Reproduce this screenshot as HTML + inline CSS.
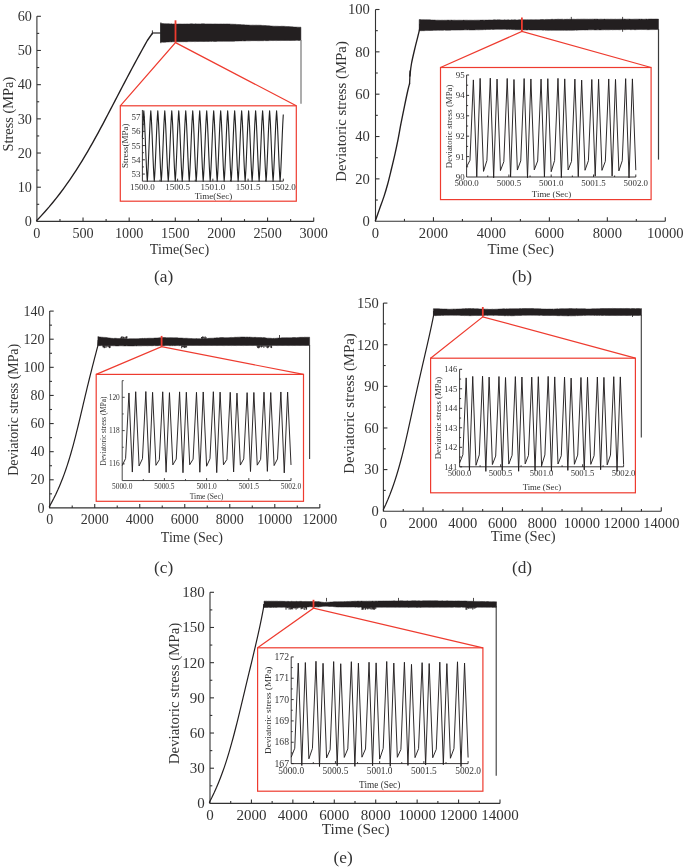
<!DOCTYPE html>
<html><head><meta charset="utf-8"><style>
html,body{margin:0;padding:0;background:#fff;width:685px;height:868px;overflow:hidden}
svg{display:block;will-change:transform}
text{font-family:"Liberation Serif", serif}
</style></head><body>
<svg width="685" height="868" viewBox="0 0 685 868">
<rect width="685" height="868" fill="#fff"/>
<path d="M36.9 16.3 L36.9 221.4 L313.7 221.4" stroke="#333" stroke-width="1.1" fill="none"/>
<line x1="83.03" y1="221.4" x2="83.03" y2="217.4" stroke="#333" stroke-width="1.1"/>
<line x1="129.17" y1="221.4" x2="129.17" y2="217.4" stroke="#333" stroke-width="1.1"/>
<line x1="175.3" y1="221.4" x2="175.3" y2="217.4" stroke="#333" stroke-width="1.1"/>
<line x1="221.43" y1="221.4" x2="221.43" y2="217.4" stroke="#333" stroke-width="1.1"/>
<line x1="267.57" y1="221.4" x2="267.57" y2="217.4" stroke="#333" stroke-width="1.1"/>
<line x1="313.7" y1="221.4" x2="313.7" y2="217.4" stroke="#333" stroke-width="1.1"/>
<line x1="59.97" y1="221.4" x2="59.97" y2="219.1" stroke="#333" stroke-width="1.1"/>
<line x1="106.1" y1="221.4" x2="106.1" y2="219.1" stroke="#333" stroke-width="1.1"/>
<line x1="152.23" y1="221.4" x2="152.23" y2="219.1" stroke="#333" stroke-width="1.1"/>
<line x1="198.37" y1="221.4" x2="198.37" y2="219.1" stroke="#333" stroke-width="1.1"/>
<line x1="244.5" y1="221.4" x2="244.5" y2="219.1" stroke="#333" stroke-width="1.1"/>
<line x1="290.63" y1="221.4" x2="290.63" y2="219.1" stroke="#333" stroke-width="1.1"/>
<line x1="36.9" y1="187.22" x2="40.9" y2="187.22" stroke="#333" stroke-width="1.1"/>
<line x1="36.9" y1="153.03" x2="40.9" y2="153.03" stroke="#333" stroke-width="1.1"/>
<line x1="36.9" y1="118.85" x2="40.9" y2="118.85" stroke="#333" stroke-width="1.1"/>
<line x1="36.9" y1="84.67" x2="40.9" y2="84.67" stroke="#333" stroke-width="1.1"/>
<line x1="36.9" y1="50.48" x2="40.9" y2="50.48" stroke="#333" stroke-width="1.1"/>
<line x1="36.9" y1="16.3" x2="40.9" y2="16.3" stroke="#333" stroke-width="1.1"/>
<line x1="36.9" y1="204.31" x2="39.2" y2="204.31" stroke="#333" stroke-width="1.1"/>
<line x1="36.9" y1="170.12" x2="39.2" y2="170.12" stroke="#333" stroke-width="1.1"/>
<line x1="36.9" y1="135.94" x2="39.2" y2="135.94" stroke="#333" stroke-width="1.1"/>
<line x1="36.9" y1="101.76" x2="39.2" y2="101.76" stroke="#333" stroke-width="1.1"/>
<line x1="36.9" y1="67.57" x2="39.2" y2="67.57" stroke="#333" stroke-width="1.1"/>
<line x1="36.9" y1="33.39" x2="39.2" y2="33.39" stroke="#333" stroke-width="1.1"/>
<text x="36.9" y="238.1" font-size="14.2" text-anchor="middle" fill="#333">0</text>
<text x="83.03" y="238.1" font-size="14.2" text-anchor="middle" fill="#333">500</text>
<text x="129.17" y="238.1" font-size="14.2" text-anchor="middle" fill="#333">1000</text>
<text x="175.3" y="238.1" font-size="14.2" text-anchor="middle" fill="#333">1500</text>
<text x="221.43" y="238.1" font-size="14.2" text-anchor="middle" fill="#333">2000</text>
<text x="267.57" y="238.1" font-size="14.2" text-anchor="middle" fill="#333">2500</text>
<text x="313.7" y="238.1" font-size="14.2" text-anchor="middle" fill="#333">3000</text>
<text x="31.9" y="226.1" font-size="14.2" text-anchor="end" fill="#333">0</text>
<text x="31.9" y="191.92" font-size="14.2" text-anchor="end" fill="#333">10</text>
<text x="31.9" y="157.73" font-size="14.2" text-anchor="end" fill="#333">20</text>
<text x="31.9" y="123.55" font-size="14.2" text-anchor="end" fill="#333">30</text>
<text x="31.9" y="89.37" font-size="14.2" text-anchor="end" fill="#333">40</text>
<text x="31.9" y="55.18" font-size="14.2" text-anchor="end" fill="#333">50</text>
<text x="31.9" y="21" font-size="14.2" text-anchor="end" fill="#333">60</text>
<text x="179.5" y="254" font-size="14.2" text-anchor="middle" fill="#333">Time(Sec)</text>
<text x="12.9" y="114.1" font-size="14.4" text-anchor="middle" fill="#333" transform="rotate(-90 12.9 114.1)">Stress (MPa)</text>
<text x="163.6" y="281.8" font-size="17.3" text-anchor="middle" fill="#333">(a)</text>
<path d="M36.3 221 L40.68 216.37 L44.88 211.74 L48.92 207.12 L52.79 202.49 L56.52 197.86 L60.11 193.23 L63.57 188.6 L66.9 183.97 L70.13 179.35 L73.25 174.72 L76.28 170.09 L79.23 165.46 L82.09 160.83 L84.88 156.21 L87.61 151.58 L90.27 146.95 L92.89 142.32 L95.46 137.69 L98 133.06 L100.5 128.44 L102.97 123.81 L105.42 119.18 L107.85 114.55 L110.27 109.92 L112.68 105.29 L115.09 100.67 L117.5 96.04 L119.91 91.41 L122.32 86.78 L124.75 82.15 L127.18 77.53 L129.63 72.9 L132.1 68.27 L134.58 63.64 L137.09 59.01 L139.62 54.38 L142.17 49.76 L144.74 45.13 L147.33 40.5 L152.6 33" stroke="#231f20" stroke-width="1.35" fill="none" stroke-linejoin="round"/>
<line x1="152.4" y1="33" x2="160.9" y2="33" stroke="#231f20" stroke-width="1.2"/>
<line x1="152.4" y1="30.4" x2="152.4" y2="34.4" stroke="#231f20" stroke-width="0.9"/>
<path d="M160.5 23.6 L161.71 23.58 L162.92 23.57 L164.13 23.68 L165.34 23.63 L166.55 23.75 L167.76 23.78 L168.97 23.78 L170.18 23.9 L171.39 23.87 L172.6 23.96 L173.81 23.92 L175.02 23.93 L176.23 23.99 L177.44 24.05 L178.66 23.93 L179.87 23.95 L181.08 24.01 L182.29 24.05 L183.5 23.99 L184.71 23.95 L185.92 24.04 L187.13 23.88 L188.34 24 L189.55 23.9 L190.76 23.87 L191.97 23.86 L193.18 23.89 L194.39 23.96 L195.6 23.86 L196.81 23.92 L198.02 23.92 L199.23 23.88 L200.44 23.91 L201.65 23.83 L202.86 23.83 L204.07 23.86 L205.28 23.94 L206.49 23.9 L207.7 23.89 L208.91 23.94 L210.12 23.93 L211.33 23.91 L212.54 24 L213.76 23.99 L214.97 23.92 L216.18 23.98 L217.39 23.98 L218.6 24.04 L219.81 24.03 L221.02 23.96 L222.23 24.07 L223.44 23.94 L224.65 23.99 L225.86 24.04 L227.07 23.96 L228.28 24.03 L229.49 23.99 L230.7 24.13 L231.91 24.19 L233.12 24.22 L234.33 24.32 L235.54 24.3 L236.75 24.43 L237.96 24.49 L239.17 24.56 L240.38 24.62 L241.59 24.75 L242.8 24.84 L244.01 24.84 L245.22 24.94 L246.43 24.9 L247.64 25.06 L248.86 25.1 L250.07 25.2 L251.28 25.21 L252.49 25.14 L253.7 25.18 L254.91 25.23 L256.12 25.13 L257.33 25.22 L258.54 25.2 L259.75 25.23 L260.96 25.28 L262.17 25.45 L263.38 25.42 L264.59 25.51 L265.8 25.62 L267.01 25.78 L268.22 25.73 L269.43 25.87 L270.64 25.97 L271.85 26.1 L273.06 26.15 L274.27 26.22 L275.48 26.18 L276.69 26.24 L277.9 26.26 L279.11 26.36 L280.32 26.37 L281.53 26.26 L282.74 26.29 L283.96 26.33 L285.17 26.39 L286.38 26.49 L287.59 26.58 L288.8 26.6 L290.01 26.64 L291.22 26.79 L292.43 26.86 L293.64 26.97 L294.85 27.1 L296.06 27.12 L297.27 27.14 L298.48 27.19 L299.69 27.22 L300.9 27.2 L300.9 40.4 L299.69 40.42 L298.48 40.48 L297.27 40.33 L296.06 40.35 L294.85 40.43 L293.64 40.4 L292.43 40.46 L291.22 40.52 L290.01 40.51 L288.8 40.41 L287.59 40.52 L286.38 40.54 L285.17 40.43 L283.96 40.43 L282.74 40.44 L281.53 40.53 L280.32 40.57 L279.11 40.48 L277.9 40.49 L276.69 40.58 L275.48 40.56 L274.27 40.5 L273.06 40.58 L271.85 40.5 L270.64 40.56 L269.43 40.62 L268.22 40.64 L267.01 40.67 L265.8 40.65 L264.59 40.57 L263.38 40.7 L262.17 40.69 L260.96 40.67 L259.75 40.74 L258.54 40.75 L257.33 40.72 L256.12 40.65 L254.91 40.65 L253.7 40.66 L252.49 40.67 L251.28 40.7 L250.07 40.81 L248.86 40.84 L247.64 40.85 L246.43 40.8 L245.22 40.92 L244.01 40.91 L242.8 40.87 L241.59 40.91 L240.38 40.91 L239.17 40.95 L237.96 41.04 L236.75 41.1 L235.54 41.09 L234.33 41.21 L233.12 41.25 L231.91 41.27 L230.7 41.3 L229.49 41.35 L228.28 41.33 L227.07 41.25 L225.86 41.27 L224.65 41.34 L223.44 41.31 L222.23 41.35 L221.02 41.26 L219.81 41.3 L218.6 41.29 L217.39 41.37 L216.18 41.41 L214.97 41.45 L213.76 41.39 L212.54 41.32 L211.33 41.42 L210.12 41.37 L208.91 41.45 L207.7 41.53 L206.49 41.39 L205.28 41.42 L204.07 41.54 L202.86 41.46 L201.65 41.47 L200.44 41.44 L199.23 41.43 L198.02 41.5 L196.81 41.51 L195.6 41.6 L194.39 41.59 L193.18 41.49 L191.97 41.55 L190.76 41.57 L189.55 41.57 L188.34 41.58 L187.13 41.68 L185.92 41.74 L184.71 41.63 L183.5 41.7 L182.29 41.68 L181.08 41.7 L179.87 41.69 L178.66 41.71 L177.44 41.77 L176.23 41.74 L175.02 41.75 L173.81 41.74 L172.6 41.76 L171.39 41.88 L170.18 41.84 L168.97 41.93 L167.76 41.98 L166.55 42.1 L165.34 42.16 L164.13 42.19 L162.92 42.24 L161.71 42.12 L160.5 42.2Z" fill="#231f20" stroke="#231f20" stroke-width="0.5"/>
<line x1="160.9" y1="22.4" x2="160.9" y2="43.2" stroke="#231f20" stroke-width="0.9"/>
<line x1="301" y1="40" x2="301" y2="103.7" stroke="#8a8a8a" stroke-width="1.4"/>
<line x1="175.5" y1="20.3" x2="175.5" y2="42.6" stroke="#ee3b2f" stroke-width="1.8"/>
<path d="M120.3 105.8 L175.5 42.6 L296.3 105.8" stroke="#ee3b2f" stroke-width="1.2" fill="none"/>
<rect x="120.3" y="105.8" width="176" height="95.4" stroke="#ee3b2f" stroke-width="1.2" fill="none"/>
<path d="M142.4 109.97 L142.4 181.17 L283.3 181.17" stroke="#231f20" stroke-width="0.9" fill="none"/>
<line x1="177.62" y1="181.17" x2="177.62" y2="178.67" stroke="#231f20" stroke-width="0.9"/>
<line x1="212.85" y1="181.17" x2="212.85" y2="178.67" stroke="#231f20" stroke-width="0.9"/>
<line x1="248.08" y1="181.17" x2="248.08" y2="178.67" stroke="#231f20" stroke-width="0.9"/>
<line x1="283.3" y1="181.17" x2="283.3" y2="178.67" stroke="#231f20" stroke-width="0.9"/>
<line x1="160.01" y1="181.17" x2="160.01" y2="179.67" stroke="#231f20" stroke-width="0.9"/>
<line x1="195.24" y1="181.17" x2="195.24" y2="179.67" stroke="#231f20" stroke-width="0.9"/>
<line x1="230.46" y1="181.17" x2="230.46" y2="179.67" stroke="#231f20" stroke-width="0.9"/>
<line x1="265.69" y1="181.17" x2="265.69" y2="179.67" stroke="#231f20" stroke-width="0.9"/>
<line x1="142.4" y1="174.05" x2="144.9" y2="174.05" stroke="#231f20" stroke-width="0.9"/>
<line x1="142.4" y1="159.81" x2="144.9" y2="159.81" stroke="#231f20" stroke-width="0.9"/>
<line x1="142.4" y1="145.57" x2="144.9" y2="145.57" stroke="#231f20" stroke-width="0.9"/>
<line x1="142.4" y1="131.33" x2="144.9" y2="131.33" stroke="#231f20" stroke-width="0.9"/>
<line x1="142.4" y1="117.09" x2="144.9" y2="117.09" stroke="#231f20" stroke-width="0.9"/>
<line x1="142.4" y1="166.93" x2="143.9" y2="166.93" stroke="#231f20" stroke-width="0.9"/>
<line x1="142.4" y1="152.69" x2="143.9" y2="152.69" stroke="#231f20" stroke-width="0.9"/>
<line x1="142.4" y1="138.45" x2="143.9" y2="138.45" stroke="#231f20" stroke-width="0.9"/>
<line x1="142.4" y1="124.21" x2="143.9" y2="124.21" stroke="#231f20" stroke-width="0.9"/>
<text x="142.4" y="190.17" font-size="9" text-anchor="middle" fill="#333">1500.0</text>
<text x="177.62" y="190.17" font-size="9" text-anchor="middle" fill="#333">1500.5</text>
<text x="212.85" y="190.17" font-size="9" text-anchor="middle" fill="#333">1501.0</text>
<text x="248.08" y="190.17" font-size="9" text-anchor="middle" fill="#333">1501.5</text>
<text x="283.3" y="190.17" font-size="9" text-anchor="middle" fill="#333">1502.0</text>
<text x="140.4" y="177.05" font-size="9" text-anchor="end" fill="#333">53</text>
<text x="140.4" y="162.81" font-size="9" text-anchor="end" fill="#333">54</text>
<text x="140.4" y="148.57" font-size="9" text-anchor="end" fill="#333">55</text>
<text x="140.4" y="134.33" font-size="9" text-anchor="end" fill="#333">56</text>
<text x="140.4" y="120.09" font-size="9" text-anchor="end" fill="#333">57</text>
<text x="213.5" y="198.9" font-size="9" text-anchor="middle" fill="#333">Time(Sec)</text>
<text x="128.4" y="145.7" font-size="9" text-anchor="middle" fill="#333" transform="rotate(-90 128.4 145.7)">Stress(MPa)</text>
<path d="M142.4 137.51 L143.37 116.87 L143.81 110.82 L144.25 116.87 L144.68 125.13 L145.12 135.1 L145.56 146 L145.99 156.89 L146.43 166.86 L146.87 175.13 L147.3 181.17 L147.74 175.13 L148.18 166.86 L148.61 156.89 L149.05 146 L149.49 135.1 L149.92 125.13 L150.36 116.87 L150.8 110.82 L151.23 116.87 L151.67 125.13 L152.11 135.1 L152.54 146 L152.98 156.89 L153.42 166.86 L153.86 175.13 L154.29 181.17 L154.73 175.13 L155.17 166.86 L155.6 156.89 L156.04 146 L156.48 135.1 L156.91 125.13 L157.35 116.87 L157.79 110.82 L158.22 116.87 L158.66 125.13 L159.1 135.1 L159.53 146 L159.97 156.89 L160.41 166.86 L160.84 175.13 L161.28 181.17 L161.72 175.13 L162.15 166.86 L162.59 156.89 L163.03 146 L163.46 135.1 L163.9 125.13 L164.34 116.87 L164.77 110.82 L165.21 116.87 L165.65 125.13 L166.09 135.1 L166.52 146 L166.96 156.89 L167.4 166.86 L167.83 175.13 L168.27 181.17 L168.71 175.13 L169.14 166.86 L169.58 156.89 L170.02 146 L170.45 135.1 L170.89 125.13 L171.33 116.87 L171.76 110.82 L172.2 116.87 L172.64 125.13 L173.07 135.1 L173.51 146 L173.95 156.89 L174.38 166.86 L174.82 175.13 L175.26 181.17 L175.69 175.13 L176.13 166.86 L176.57 156.89 L177.01 146 L177.44 135.1 L177.88 125.13 L178.32 116.87 L178.75 110.82 L179.19 116.87 L179.63 125.13 L180.06 135.1 L180.5 146 L180.94 156.89 L181.37 166.86 L181.81 175.13 L182.25 181.17 L182.68 175.13 L183.12 166.86 L183.56 156.89 L183.99 146 L184.43 135.1 L184.87 125.13 L185.3 116.87 L185.74 110.82 L186.18 116.87 L186.61 125.13 L187.05 135.1 L187.49 146 L187.92 156.89 L188.36 166.86 L188.8 175.13 L189.24 181.17 L189.67 175.13 L190.11 166.86 L190.55 156.89 L190.98 146 L191.42 135.1 L191.86 125.13 L192.29 116.87 L192.73 110.82 L193.17 116.87 L193.6 125.13 L194.04 135.1 L194.48 146 L194.91 156.89 L195.35 166.86 L195.79 175.13 L196.22 181.17 L196.66 175.13 L197.1 166.86 L197.53 156.89 L197.97 146 L198.41 135.1 L198.84 125.13 L199.28 116.87 L199.72 110.82 L200.15 116.87 L200.59 125.13 L201.03 135.1 L201.47 146 L201.9 156.89 L202.34 166.86 L202.78 175.13 L203.21 181.17 L203.65 175.13 L204.09 166.86 L204.52 156.89 L204.96 146 L205.4 135.1 L205.83 125.13 L206.27 116.87 L206.71 110.82 L207.14 116.87 L207.58 125.13 L208.02 135.1 L208.45 146 L208.89 156.89 L209.33 166.86 L209.76 175.13 L210.2 181.17 L210.64 175.13 L211.07 166.86 L211.51 156.89 L211.95 146 L212.39 135.1 L212.82 125.13 L213.26 116.87 L213.7 110.82 L214.13 116.87 L214.57 125.13 L215.01 135.1 L215.44 146 L215.88 156.89 L216.32 166.86 L216.75 175.13 L217.19 181.17 L217.63 175.13 L218.06 166.86 L218.5 156.89 L218.94 146 L219.37 135.1 L219.81 125.13 L220.25 116.87 L220.68 110.82 L221.12 116.87 L221.56 125.13 L221.99 135.1 L222.43 146 L222.87 156.89 L223.3 166.86 L223.74 175.13 L224.18 181.17 L224.62 175.13 L225.05 166.86 L225.49 156.89 L225.93 146 L226.36 135.1 L226.8 125.13 L227.24 116.87 L227.67 110.82 L228.11 116.87 L228.55 125.13 L228.98 135.1 L229.42 146 L229.86 156.89 L230.29 166.86 L230.73 175.13 L231.17 181.17 L231.6 175.13 L232.04 166.86 L232.48 156.89 L232.91 146 L233.35 135.1 L233.79 125.13 L234.22 116.87 L234.66 110.82 L235.1 116.87 L235.53 125.13 L235.97 135.1 L236.41 146 L236.85 156.89 L237.28 166.86 L237.72 175.13 L238.16 181.17 L238.59 175.13 L239.03 166.86 L239.47 156.89 L239.9 146 L240.34 135.1 L240.78 125.13 L241.21 116.87 L241.65 110.82 L242.09 116.87 L242.52 125.13 L242.96 135.1 L243.4 146 L243.83 156.89 L244.27 166.86 L244.71 175.13 L245.14 181.17 L245.58 175.13 L246.02 166.86 L246.45 156.89 L246.89 146 L247.33 135.1 L247.77 125.13 L248.2 116.87 L248.64 110.82 L249.08 116.87 L249.51 125.13 L249.95 135.1 L250.39 146 L250.82 156.89 L251.26 166.86 L251.7 175.13 L252.13 181.17 L252.57 175.13 L253.01 166.86 L253.44 156.89 L253.88 146 L254.32 135.1 L254.75 125.13 L255.19 116.87 L255.63 110.82 L256.06 116.87 L256.5 125.13 L256.94 135.1 L257.37 146 L257.81 156.89 L258.25 166.86 L258.68 175.13 L259.12 181.17 L259.56 175.13 L260 166.86 L260.43 156.89 L260.87 146 L261.31 135.1 L261.74 125.13 L262.18 116.87 L262.62 110.82 L263.05 116.87 L263.49 125.13 L263.93 135.1 L264.36 146 L264.8 156.89 L265.24 166.86 L265.67 175.13 L266.11 181.17 L266.55 175.13 L266.98 166.86 L267.42 156.89 L267.86 146 L268.29 135.1 L268.73 125.13 L269.17 116.87 L269.6 110.82 L270.04 116.87 L270.48 125.13 L270.91 135.1 L271.35 146 L271.79 156.89 L272.23 166.86 L272.66 175.13 L273.1 181.17 L273.54 175.13 L273.97 166.86 L274.41 156.89 L274.85 146 L275.28 135.1 L275.72 125.13 L276.16 116.87 L276.59 110.82 L277.03 116.87 L277.47 125.13 L277.9 135.1 L278.34 146 L278.78 156.89 L279.21 166.86 L279.65 175.13 L280.09 181.17 L280.52 175.13 L280.96 166.86 L281.4 156.89 L281.83 146 L282.27 135.1 L282.71 125.13 L283.15 116.87 L283.3 114.45" stroke="#222" stroke-width="1.1" fill="none" stroke-linejoin="round"/>
<path d="M375.5 9.5 L375.5 221.2 L665.3 221.2" stroke="#333" stroke-width="1.1" fill="none"/>
<line x1="433.46" y1="221.2" x2="433.46" y2="217.2" stroke="#333" stroke-width="1.1"/>
<line x1="491.42" y1="221.2" x2="491.42" y2="217.2" stroke="#333" stroke-width="1.1"/>
<line x1="549.38" y1="221.2" x2="549.38" y2="217.2" stroke="#333" stroke-width="1.1"/>
<line x1="607.34" y1="221.2" x2="607.34" y2="217.2" stroke="#333" stroke-width="1.1"/>
<line x1="665.3" y1="221.2" x2="665.3" y2="217.2" stroke="#333" stroke-width="1.1"/>
<line x1="404.48" y1="221.2" x2="404.48" y2="218.9" stroke="#333" stroke-width="1.1"/>
<line x1="462.44" y1="221.2" x2="462.44" y2="218.9" stroke="#333" stroke-width="1.1"/>
<line x1="520.4" y1="221.2" x2="520.4" y2="218.9" stroke="#333" stroke-width="1.1"/>
<line x1="578.36" y1="221.2" x2="578.36" y2="218.9" stroke="#333" stroke-width="1.1"/>
<line x1="636.32" y1="221.2" x2="636.32" y2="218.9" stroke="#333" stroke-width="1.1"/>
<line x1="375.5" y1="178.86" x2="379.5" y2="178.86" stroke="#333" stroke-width="1.1"/>
<line x1="375.5" y1="136.52" x2="379.5" y2="136.52" stroke="#333" stroke-width="1.1"/>
<line x1="375.5" y1="94.18" x2="379.5" y2="94.18" stroke="#333" stroke-width="1.1"/>
<line x1="375.5" y1="51.84" x2="379.5" y2="51.84" stroke="#333" stroke-width="1.1"/>
<line x1="375.5" y1="9.5" x2="379.5" y2="9.5" stroke="#333" stroke-width="1.1"/>
<line x1="375.5" y1="200.03" x2="377.8" y2="200.03" stroke="#333" stroke-width="1.1"/>
<line x1="375.5" y1="157.69" x2="377.8" y2="157.69" stroke="#333" stroke-width="1.1"/>
<line x1="375.5" y1="115.35" x2="377.8" y2="115.35" stroke="#333" stroke-width="1.1"/>
<line x1="375.5" y1="73.01" x2="377.8" y2="73.01" stroke="#333" stroke-width="1.1"/>
<line x1="375.5" y1="30.67" x2="377.8" y2="30.67" stroke="#333" stroke-width="1.1"/>
<text x="375.5" y="237.6" font-size="14.6" text-anchor="middle" fill="#333">0</text>
<text x="433.46" y="237.6" font-size="14.6" text-anchor="middle" fill="#333">2000</text>
<text x="491.42" y="237.6" font-size="14.6" text-anchor="middle" fill="#333">4000</text>
<text x="549.38" y="237.6" font-size="14.6" text-anchor="middle" fill="#333">6000</text>
<text x="607.34" y="237.6" font-size="14.6" text-anchor="middle" fill="#333">8000</text>
<text x="665.3" y="237.6" font-size="14.6" text-anchor="middle" fill="#333">10000</text>
<text x="369.9" y="226.03" font-size="14.6" text-anchor="end" fill="#333">0</text>
<text x="369.9" y="183.69" font-size="14.6" text-anchor="end" fill="#333">20</text>
<text x="369.9" y="141.35" font-size="14.6" text-anchor="end" fill="#333">40</text>
<text x="369.9" y="99.01" font-size="14.6" text-anchor="end" fill="#333">60</text>
<text x="369.9" y="56.67" font-size="14.6" text-anchor="end" fill="#333">80</text>
<text x="369.9" y="14.33" font-size="14.6" text-anchor="end" fill="#333">100</text>
<text x="520.8" y="254.2" font-size="15" text-anchor="middle" fill="#333">Time (Sec)</text>
<text x="346.1" y="111.4" font-size="14.8" text-anchor="middle" fill="#333" transform="rotate(-90 346.1 111.4)">Deviatoric stress (MPa)</text>
<text x="522" y="281.8" font-size="17.3" text-anchor="middle" fill="#333">(b)</text>
<path d="M375.4 220.8 C376.05 218.93 377.85 213.72 379.3 209.6 C380.75 205.48 382.7 200.37 384.1 196.1 C385.5 191.83 386.5 188.43 387.7 184 C388.9 179.57 390.08 174.53 391.3 169.5 C392.52 164.47 393.88 158.78 395 153.8 C396.12 148.82 397.02 144.58 398 139.6 C398.98 134.62 399.82 129.48 400.9 123.9 C401.98 118.32 403.37 111.58 404.5 106.1 C405.63 100.62 406.85 94.77 407.7 91 C408.55 87.23 409.28 84.75 409.6 83.5" stroke="#231f20" stroke-width="1.35" fill="none" stroke-linejoin="round" stroke-linecap="round"/>
<line x1="409.6" y1="83.5" x2="410.1" y2="70.5" stroke="#231f20" stroke-width="1.3"/>
<path d="M409.9 76 C410.17 73.92 410.6 68.4 411.5 63.5 C412.4 58.6 413.93 52.37 415.3 46.6 C416.67 40.83 418.93 32.58 419.7 28.9 C420.47 25.22 419.87 25.23 419.9 24.5" stroke="#231f20" stroke-width="1.35" fill="none" stroke-linejoin="round" stroke-linecap="round"/>
<path d="M419.2 19.6 L420.4 19.61 L421.61 19.71 L422.81 19.63 L424.01 19.75 L425.21 19.78 L426.42 19.7 L427.62 19.76 L428.82 19.82 L430.02 19.87 L431.23 19.99 L432.43 19.98 L433.63 20.06 L434.83 20.04 L436.04 20.23 L437.24 20.15 L438.44 20.18 L439.64 20.22 L440.85 20.28 L442.05 20.18 L443.25 20.28 L444.45 20.2 L445.66 20.21 L446.86 20.2 L448.06 20.1 L449.26 20.19 L450.47 20.14 L451.67 20.1 L452.87 20.26 L454.07 20.13 L455.28 20.19 L456.48 20.25 L457.68 20.21 L458.88 20.17 L460.09 20.2 L461.29 20.21 L462.49 20.26 L463.69 20.12 L464.9 20.21 L466.1 20.15 L467.3 20.16 L468.5 20.25 L469.71 20.2 L470.91 20.21 L472.11 20.25 L473.31 20.27 L474.52 20.17 L475.72 20.2 L476.92 20.16 L478.12 20.15 L479.33 20.17 L480.53 20.11 L481.73 20.11 L482.93 20.08 L484.14 20.15 L485.34 20.08 L486.54 20.1 L487.74 20.1 L488.95 19.94 L490.15 19.98 L491.35 20.05 L492.55 20.01 L493.76 19.86 L494.96 19.84 L496.16 19.9 L497.36 19.82 L498.57 19.85 L499.77 19.81 L500.97 19.93 L502.17 19.96 L503.38 19.98 L504.58 19.83 L505.78 19.93 L506.98 19.92 L508.19 19.81 L509.39 19.95 L510.59 19.97 L511.79 19.81 L513 19.95 L514.2 19.83 L515.4 19.85 L516.6 19.94 L517.81 19.9 L519.01 19.76 L520.21 19.81 L521.41 19.82 L522.62 19.78 L523.82 19.75 L525.02 19.77 L526.22 19.85 L527.43 19.71 L528.63 19.81 L529.83 19.79 L531.03 19.7 L532.24 19.76 L533.44 19.81 L534.64 19.77 L535.84 19.67 L537.05 19.83 L538.25 19.77 L539.45 19.78 L540.65 19.58 L541.86 19.58 L543.06 19.51 L544.26 19.63 L545.46 19.49 L546.67 19.43 L547.87 19.46 L549.07 19.53 L550.27 19.48 L551.48 19.34 L552.68 19.3 L553.88 19.43 L555.08 19.35 L556.29 19.36 L557.49 19.23 L558.69 19.21 L559.89 19.34 L561.1 19.28 L562.3 19.21 L563.5 19.39 L564.7 19.32 L565.91 19.36 L567.11 19.21 L568.31 19.36 L569.51 19.2 L570.72 19.36 L571.92 19.27 L573.12 19.24 L574.32 19.28 L575.53 19.35 L576.73 19.22 L577.93 19.18 L579.13 19.26 L580.34 19.2 L581.54 19.17 L582.74 19.17 L583.94 19.14 L585.15 19.17 L586.35 19.19 L587.55 19.18 L588.75 19.27 L589.96 19.17 L591.16 19.21 L592.36 19.14 L593.56 19.18 L594.77 19.11 L595.97 19.15 L597.17 19.1 L598.37 19.25 L599.58 19.21 L600.78 19.14 L601.98 19.19 L603.18 19.29 L604.39 19.12 L605.59 19.26 L606.79 19.19 L607.99 19.2 L609.2 19.27 L610.4 19.18 L611.6 19.2 L612.8 19.24 L614.01 19.3 L615.21 19.17 L616.41 19.27 L617.61 19.24 L618.82 19.23 L620.02 19.18 L621.22 19.17 L622.42 19.11 L623.63 19.13 L624.83 19.11 L626.03 19.25 L627.23 19.15 L628.44 19.13 L629.64 19.12 L630.84 19.27 L632.04 19.27 L633.25 19.23 L634.45 19.15 L635.65 19.14 L636.85 19.15 L638.06 19.17 L639.26 19.11 L640.46 19.16 L641.66 19.12 L642.87 19.25 L644.07 19.25 L645.27 19.15 L646.47 19.09 L647.68 19.22 L648.88 19.09 L650.08 19.09 L651.28 19.02 L652.49 19.09 L653.69 19.1 L654.89 19.1 L656.09 19.04 L657.3 19.1 L658.5 19.1 L658.5 29.6 L657.3 29.56 L656.09 29.51 L654.89 29.57 L653.69 29.58 L652.49 29.6 L651.28 29.58 L650.08 29.58 L648.88 29.65 L647.68 29.68 L646.47 29.61 L645.27 29.55 L644.07 29.55 L642.87 29.52 L641.66 29.57 L640.46 29.52 L639.26 29.54 L638.06 29.53 L636.85 29.59 L635.65 29.7 L634.45 29.68 L633.25 29.54 L632.04 29.6 L630.84 29.68 L629.64 29.54 L628.44 29.53 L627.23 29.54 L626.03 29.59 L624.83 29.63 L623.63 29.58 L622.42 29.66 L621.22 29.59 L620.02 29.75 L618.82 29.71 L617.61 29.63 L616.41 29.65 L615.21 29.69 L614.01 29.64 L612.8 29.81 L611.6 29.64 L610.4 29.7 L609.2 29.79 L607.99 29.82 L606.79 29.77 L605.59 29.83 L604.39 29.7 L603.18 29.84 L601.98 29.81 L600.78 29.89 L599.58 29.88 L598.37 29.83 L597.17 29.87 L595.97 29.89 L594.77 29.91 L593.56 29.81 L592.36 29.78 L591.16 29.86 L589.96 29.83 L588.75 29.84 L587.55 30 L586.35 29.89 L585.15 30.02 L583.94 29.89 L582.74 29.91 L581.54 29.97 L580.34 30.03 L579.13 30.04 L577.93 30.11 L576.73 30.21 L575.53 30.11 L574.32 30.13 L573.12 30.14 L571.92 30.28 L570.72 30.26 L569.51 30.32 L568.31 30.17 L567.11 30.33 L565.91 30.32 L564.7 30.18 L563.5 30.36 L562.3 30.26 L561.1 30.27 L559.89 30.23 L558.69 30.26 L557.49 30.28 L556.29 30.28 L555.08 30.17 L553.88 30.17 L552.68 30.24 L551.48 30.31 L550.27 30.15 L549.07 30.22 L547.87 30.24 L546.67 30.14 L545.46 30.17 L544.26 30.01 L543.06 30.15 L541.86 30.04 L540.65 29.94 L539.45 30.01 L538.25 29.91 L537.05 30.04 L535.84 29.88 L534.64 29.88 L533.44 29.9 L532.24 30 L531.03 29.97 L529.83 29.89 L528.63 29.8 L527.43 29.98 L526.22 29.97 L525.02 29.8 L523.82 29.92 L522.62 29.74 L521.41 29.78 L520.21 29.75 L519.01 29.73 L517.81 29.65 L516.6 29.69 L515.4 29.65 L514.2 29.61 L513 29.49 L511.79 29.41 L510.59 29.37 L509.39 29.45 L508.19 29.36 L506.98 29.43 L505.78 29.3 L504.58 29.26 L503.38 29.23 L502.17 29.34 L500.97 29.32 L499.77 29.35 L498.57 29.34 L497.36 29.31 L496.16 29.3 L494.96 29.34 L493.76 29.46 L492.55 29.43 L491.35 29.36 L490.15 29.49 L488.95 29.43 L487.74 29.43 L486.54 29.5 L485.34 29.64 L484.14 29.54 L482.93 29.7 L481.73 29.71 L480.53 29.74 L479.33 29.82 L478.12 29.86 L476.92 29.73 L475.72 29.85 L474.52 29.9 L473.31 29.91 L472.11 29.92 L470.91 29.91 L469.71 29.97 L468.5 29.82 L467.3 29.88 L466.1 29.84 L464.9 29.83 L463.69 29.88 L462.49 29.98 L461.29 29.99 L460.09 30.05 L458.88 30.01 L457.68 30.07 L456.48 30.09 L455.28 30.11 L454.07 30.07 L452.87 30.09 L451.67 30.03 L450.47 30.18 L449.26 30.18 L448.06 30.18 L446.86 30.24 L445.66 30.24 L444.45 30.09 L443.25 30.22 L442.05 30.24 L440.85 30.13 L439.64 30.3 L438.44 30.17 L437.24 30.2 L436.04 30.33 L434.83 30.33 L433.63 30.36 L432.43 30.43 L431.23 30.43 L430.02 30.5 L428.82 30.48 L427.62 30.55 L426.42 30.54 L425.21 30.59 L424.01 30.7 L422.81 30.67 L421.61 30.73 L420.4 30.7 L419.2 30.8Z" fill="#231f20" stroke="#231f20" stroke-width="0.5"/>
<line x1="571.3" y1="16.9" x2="571.3" y2="20.5" stroke="#231f20" stroke-width="0.8"/>
<line x1="622.6" y1="16.9" x2="622.6" y2="20.5" stroke="#231f20" stroke-width="0.8"/>
<line x1="622.6" y1="29" x2="622.6" y2="31.8" stroke="#231f20" stroke-width="0.8"/>
<line x1="658.5" y1="29" x2="658.5" y2="159.6" stroke="#3a3a3a" stroke-width="1.2"/>
<line x1="521.9" y1="17.5" x2="521.9" y2="31.5" stroke="#ee3b2f" stroke-width="1.8"/>
<path d="M440.5 67.5 L521.9 31.5 L651.1 67.5" stroke="#ee3b2f" stroke-width="1.2" fill="none"/>
<rect x="440.5" y="67.5" width="210.6" height="132.1" stroke="#ee3b2f" stroke-width="1.2" fill="none"/>
<path d="M466.6 75 L466.6 177 L635.8 177" stroke="#231f20" stroke-width="0.9" fill="none"/>
<line x1="508.9" y1="177" x2="508.9" y2="174.5" stroke="#231f20" stroke-width="0.9"/>
<line x1="551.2" y1="177" x2="551.2" y2="174.5" stroke="#231f20" stroke-width="0.9"/>
<line x1="593.5" y1="177" x2="593.5" y2="174.5" stroke="#231f20" stroke-width="0.9"/>
<line x1="635.8" y1="177" x2="635.8" y2="174.5" stroke="#231f20" stroke-width="0.9"/>
<line x1="487.75" y1="177" x2="487.75" y2="175.5" stroke="#231f20" stroke-width="0.9"/>
<line x1="530.05" y1="177" x2="530.05" y2="175.5" stroke="#231f20" stroke-width="0.9"/>
<line x1="572.35" y1="177" x2="572.35" y2="175.5" stroke="#231f20" stroke-width="0.9"/>
<line x1="614.65" y1="177" x2="614.65" y2="175.5" stroke="#231f20" stroke-width="0.9"/>
<line x1="466.6" y1="156.6" x2="469.1" y2="156.6" stroke="#231f20" stroke-width="0.9"/>
<line x1="466.6" y1="136.2" x2="469.1" y2="136.2" stroke="#231f20" stroke-width="0.9"/>
<line x1="466.6" y1="115.8" x2="469.1" y2="115.8" stroke="#231f20" stroke-width="0.9"/>
<line x1="466.6" y1="95.4" x2="469.1" y2="95.4" stroke="#231f20" stroke-width="0.9"/>
<line x1="466.6" y1="75" x2="469.1" y2="75" stroke="#231f20" stroke-width="0.9"/>
<line x1="466.6" y1="166.8" x2="468.1" y2="166.8" stroke="#231f20" stroke-width="0.9"/>
<line x1="466.6" y1="146.4" x2="468.1" y2="146.4" stroke="#231f20" stroke-width="0.9"/>
<line x1="466.6" y1="126" x2="468.1" y2="126" stroke="#231f20" stroke-width="0.9"/>
<line x1="466.6" y1="105.6" x2="468.1" y2="105.6" stroke="#231f20" stroke-width="0.9"/>
<line x1="466.6" y1="85.2" x2="468.1" y2="85.2" stroke="#231f20" stroke-width="0.9"/>
<text x="466.6" y="186.3" font-size="8.9" text-anchor="middle" fill="#333">5000.0</text>
<text x="508.9" y="186.3" font-size="8.9" text-anchor="middle" fill="#333">5000.5</text>
<text x="551.2" y="186.3" font-size="8.9" text-anchor="middle" fill="#333">5001.0</text>
<text x="593.5" y="186.3" font-size="8.9" text-anchor="middle" fill="#333">5001.5</text>
<text x="635.8" y="186.3" font-size="8.9" text-anchor="middle" fill="#333">5002.0</text>
<text x="464.6" y="179.9" font-size="8.9" text-anchor="end" fill="#333">90</text>
<text x="464.6" y="159.5" font-size="8.9" text-anchor="end" fill="#333">91</text>
<text x="464.6" y="139.1" font-size="8.9" text-anchor="end" fill="#333">92</text>
<text x="464.6" y="118.7" font-size="8.9" text-anchor="end" fill="#333">93</text>
<text x="464.6" y="98.3" font-size="8.9" text-anchor="end" fill="#333">94</text>
<text x="464.6" y="77.9" font-size="8.9" text-anchor="end" fill="#333">95</text>
<text x="551.5" y="196.9" font-size="8.9" text-anchor="middle" fill="#333">Time (Sec)</text>
<text x="451.8" y="126.4" font-size="8.8" text-anchor="middle" fill="#333" transform="rotate(-90 451.8 126.4)">Deviatoric stress (MPa)</text>
<path d="M466.6 166.8 L469.98 160.27 L473.37 79.9 L476.75 176.8 L480.14 78.37 L483.52 171.39 L486.9 160.48 L490.29 78.16 L493.67 177.71 L497.06 79.08 L500.44 170.57 L503.82 161.7 L507.21 78.47 L510.59 177 L513.98 79.49 L517.36 170.06 L520.74 160.88 L524.13 78.57 L527.51 177.61 L530.9 78.98 L534.28 169.86 L537.66 160.99 L541.05 79.08 L544.43 177 L547.82 78.67 L551.2 171.7 L554.58 160.48 L557.97 78.37 L561.35 177.51 L564.74 78.88 L568.12 169.96 L571.5 161.39 L574.89 79.08 L578.27 176.69 L581.66 80.1 L585.04 170.27 L588.42 160.68 L591.81 79.49 L595.19 176.18 L598.58 79.28 L601.96 170.37 L605.34 161.29 L608.73 78.98 L612.11 175.98 L615.5 79.39 L618.88 170.88 L622.26 160.68 L625.65 78.67 L629.03 177.82 L632.42 78.88 L635.8 170.17" stroke="#231f20" stroke-width="0.95" fill="none" stroke-linejoin="round"/>
<path d="M49.7 311.1 L49.7 507.9 L319.8 507.9" stroke="#333" stroke-width="1.1" fill="none"/>
<line x1="94.72" y1="507.9" x2="94.72" y2="503.9" stroke="#333" stroke-width="1.1"/>
<line x1="139.73" y1="507.9" x2="139.73" y2="503.9" stroke="#333" stroke-width="1.1"/>
<line x1="184.75" y1="507.9" x2="184.75" y2="503.9" stroke="#333" stroke-width="1.1"/>
<line x1="229.77" y1="507.9" x2="229.77" y2="503.9" stroke="#333" stroke-width="1.1"/>
<line x1="274.78" y1="507.9" x2="274.78" y2="503.9" stroke="#333" stroke-width="1.1"/>
<line x1="319.8" y1="507.9" x2="319.8" y2="503.9" stroke="#333" stroke-width="1.1"/>
<line x1="72.21" y1="507.9" x2="72.21" y2="505.6" stroke="#333" stroke-width="1.1"/>
<line x1="117.23" y1="507.9" x2="117.23" y2="505.6" stroke="#333" stroke-width="1.1"/>
<line x1="162.24" y1="507.9" x2="162.24" y2="505.6" stroke="#333" stroke-width="1.1"/>
<line x1="207.26" y1="507.9" x2="207.26" y2="505.6" stroke="#333" stroke-width="1.1"/>
<line x1="252.28" y1="507.9" x2="252.28" y2="505.6" stroke="#333" stroke-width="1.1"/>
<line x1="297.29" y1="507.9" x2="297.29" y2="505.6" stroke="#333" stroke-width="1.1"/>
<line x1="49.7" y1="479.79" x2="53.7" y2="479.79" stroke="#333" stroke-width="1.1"/>
<line x1="49.7" y1="451.67" x2="53.7" y2="451.67" stroke="#333" stroke-width="1.1"/>
<line x1="49.7" y1="423.56" x2="53.7" y2="423.56" stroke="#333" stroke-width="1.1"/>
<line x1="49.7" y1="395.44" x2="53.7" y2="395.44" stroke="#333" stroke-width="1.1"/>
<line x1="49.7" y1="367.33" x2="53.7" y2="367.33" stroke="#333" stroke-width="1.1"/>
<line x1="49.7" y1="339.21" x2="53.7" y2="339.21" stroke="#333" stroke-width="1.1"/>
<line x1="49.7" y1="311.1" x2="53.7" y2="311.1" stroke="#333" stroke-width="1.1"/>
<line x1="49.7" y1="493.84" x2="52" y2="493.84" stroke="#333" stroke-width="1.1"/>
<line x1="49.7" y1="465.73" x2="52" y2="465.73" stroke="#333" stroke-width="1.1"/>
<line x1="49.7" y1="437.61" x2="52" y2="437.61" stroke="#333" stroke-width="1.1"/>
<line x1="49.7" y1="409.5" x2="52" y2="409.5" stroke="#333" stroke-width="1.1"/>
<line x1="49.7" y1="381.39" x2="52" y2="381.39" stroke="#333" stroke-width="1.1"/>
<line x1="49.7" y1="353.27" x2="52" y2="353.27" stroke="#333" stroke-width="1.1"/>
<line x1="49.7" y1="325.16" x2="52" y2="325.16" stroke="#333" stroke-width="1.1"/>
<text x="49.7" y="524.1" font-size="14" text-anchor="middle" fill="#333">0</text>
<text x="94.72" y="524.1" font-size="14" text-anchor="middle" fill="#333">2000</text>
<text x="139.73" y="524.1" font-size="14" text-anchor="middle" fill="#333">4000</text>
<text x="184.75" y="524.1" font-size="14" text-anchor="middle" fill="#333">6000</text>
<text x="229.77" y="524.1" font-size="14" text-anchor="middle" fill="#333">8000</text>
<text x="274.78" y="524.1" font-size="14" text-anchor="middle" fill="#333">10000</text>
<text x="319.8" y="524.1" font-size="14" text-anchor="middle" fill="#333">12000</text>
<text x="44.6" y="512.53" font-size="14" text-anchor="end" fill="#333">0</text>
<text x="44.6" y="484.42" font-size="14" text-anchor="end" fill="#333">20</text>
<text x="44.6" y="456.31" font-size="14" text-anchor="end" fill="#333">40</text>
<text x="44.6" y="428.19" font-size="14" text-anchor="end" fill="#333">60</text>
<text x="44.6" y="400.08" font-size="14" text-anchor="end" fill="#333">80</text>
<text x="44.6" y="371.96" font-size="14" text-anchor="end" fill="#333">100</text>
<text x="44.6" y="343.85" font-size="14" text-anchor="end" fill="#333">120</text>
<text x="44.6" y="315.73" font-size="14" text-anchor="end" fill="#333">140</text>
<text x="191.9" y="541.6" font-size="14" text-anchor="middle" fill="#333">Time (Sec)</text>
<text x="17.7" y="409.8" font-size="13.9" text-anchor="middle" fill="#333" transform="rotate(-90 17.7 409.8)">Deviatoric stress (MPa)</text>
<text x="163.6" y="572.8" font-size="17.3" text-anchor="middle" fill="#333">(c)</text>
<path d="M49.7 507.8 L49.39 506.5 L51.67 502.39 L53.82 498.27 L55.85 494.16 L57.76 490.05 L59.56 485.94 L61.26 481.82 L62.87 477.71 L64.4 473.6 L65.85 469.48 L67.23 465.37 L68.55 461.26 L69.81 457.15 L71.02 453.03 L72.18 448.92 L73.31 444.81 L74.4 440.69 L75.46 436.58 L76.49 432.47 L77.51 428.36 L78.51 424.24 L79.5 420.13 L80.47 416.02 L81.44 411.91 L82.41 407.79 L83.38 403.68 L84.35 399.57 L85.33 395.45 L86.31 391.34 L87.3 387.23 L88.3 383.12 L89.31 379 L90.33 374.89 L91.36 370.78 L92.41 366.66 L93.46 362.55 L94.53 358.44 L95.6 354.33 L96.69 350.21 L97.78 346.1 L98.3 340" stroke="#231f20" stroke-width="1.2" fill="none" stroke-linejoin="round"/>
<path d="M97.9 336.6 L99.1 336.89 L100.31 337.05 L101.51 337.2 L102.71 337.27 L103.91 337.4 L105.12 337.38 L106.32 337.53 L107.52 337.69 L108.73 337.88 L109.93 338.04 L111.13 338.28 L112.33 338.37 L113.54 338.44 L114.74 338.3 L115.94 338.31 L117.15 338.46 L118.35 338.53 L119.55 338.48 L120.75 338.55 L121.96 338.48 L123.16 338.61 L124.36 338.76 L125.57 338.78 L126.77 338.83 L127.97 338.88 L129.17 338.75 L130.38 338.72 L131.58 338.72 L132.78 338.78 L133.99 338.79 L135.19 338.81 L136.39 338.73 L137.59 338.67 L138.8 338.65 L140 338.54 L141.2 338.51 L142.41 338.37 L143.61 338.47 L144.81 338.33 L146.01 338.43 L147.22 338.35 L148.42 338.27 L149.62 338.23 L150.83 338.25 L152.03 338.3 L153.23 338.26 L154.43 338.08 L155.64 338 L156.84 338 L158.04 337.93 L159.24 337.8 L160.45 337.69 L161.65 337.7 L162.85 337.54 L164.06 337.57 L165.26 337.59 L166.46 337.7 L167.66 337.64 L168.87 337.71 L170.07 337.65 L171.27 337.63 L172.48 337.67 L173.68 337.85 L174.88 337.84 L176.08 337.81 L177.29 337.81 L178.49 337.96 L179.69 338.05 L180.9 338.06 L182.1 338.08 L183.3 338.22 L184.5 338.33 L185.71 338.25 L186.91 338.27 L188.11 338.38 L189.32 338.45 L190.52 338.55 L191.72 338.49 L192.92 338.65 L194.13 338.67 L195.33 338.65 L196.53 338.61 L197.74 338.78 L198.94 338.66 L200.14 338.76 L201.34 338.64 L202.55 338.62 L203.75 338.69 L204.95 338.56 L206.16 338.63 L207.36 338.48 L208.56 338.35 L209.76 338.28 L210.97 338.24 L212.17 338.21 L213.37 338.18 L214.58 337.94 L215.78 337.91 L216.98 337.8 L218.18 337.88 L219.39 337.66 L220.59 337.59 L221.79 337.56 L223 337.6 L224.2 337.68 L225.4 337.68 L226.6 337.64 L227.81 337.68 L229.01 337.64 L230.21 337.49 L231.42 337.42 L232.62 337.53 L233.82 337.45 L235.02 337.26 L236.23 337.34 L237.43 337.23 L238.63 337.19 L239.84 337.14 L241.04 337.08 L242.24 337.02 L243.44 337.06 L244.65 337.07 L245.85 337.19 L247.05 337.04 L248.26 337.24 L249.46 337.12 L250.66 337.2 L251.86 337.34 L253.07 337.39 L254.27 337.36 L255.47 337.33 L256.68 337.45 L257.88 337.46 L259.08 337.58 L260.28 337.44 L261.49 337.51 L262.69 337.69 L263.89 337.62 L265.09 337.83 L266.3 338.05 L267.5 338.18 L268.7 338.15 L269.91 338.24 L271.11 338.3 L272.31 338.48 L273.51 338.33 L274.72 338.39 L275.92 338.35 L277.12 338.17 L278.33 338.07 L279.53 338.12 L280.73 337.97 L281.93 337.83 L283.14 337.87 L284.34 337.77 L285.54 337.75 L286.75 337.69 L287.95 337.83 L289.15 337.84 L290.35 337.76 L291.56 337.79 L292.76 337.57 L293.96 337.57 L295.17 337.58 L296.37 337.63 L297.57 337.58 L298.77 337.42 L299.98 337.35 L301.18 337.34 L302.38 337.32 L303.59 337.37 L304.79 337.19 L305.99 337.29 L307.19 337.26 L308.4 337.27 L309.6 337.2 L309.6 345.5 L308.4 345.49 L307.19 345.49 L305.99 345.53 L304.79 345.49 L303.59 345.52 L302.38 345.48 L301.18 345.46 L299.98 345.53 L298.77 345.51 L297.57 345.52 L296.37 345.42 L295.17 345.57 L293.96 345.41 L292.76 345.55 L291.56 345.51 L290.35 345.41 L289.15 345.58 L287.95 345.54 L286.75 345.45 L285.54 345.42 L284.34 345.48 L283.14 345.5 L281.93 345.48 L280.73 345.44 L279.53 345.44 L278.33 345.57 L277.12 345.57 L275.92 345.48 L274.72 345.44 L273.51 345.56 L272.31 345.43 L271.11 345.56 L269.91 345.52 L268.7 345.58 L267.5 345.48 L266.3 345.59 L265.09 345.41 L263.89 345.5 L262.69 345.6 L261.49 345.59 L260.28 345.43 L259.08 345.44 L257.88 345.59 L256.68 345.56 L255.47 345.5 L254.27 345.42 L253.07 345.59 L251.86 345.5 L250.66 345.46 L249.46 345.43 L248.26 345.5 L247.05 345.47 L245.85 345.52 L244.65 345.42 L243.44 345.58 L242.24 345.53 L241.04 345.51 L239.84 345.4 L238.63 345.43 L237.43 345.49 L236.23 345.58 L235.02 345.48 L233.82 345.56 L232.62 345.48 L231.42 345.58 L230.21 345.4 L229.01 345.44 L227.81 345.55 L226.6 345.44 L225.4 345.47 L224.2 345.6 L223 345.57 L221.79 345.48 L220.59 345.47 L219.39 345.51 L218.18 345.46 L216.98 345.59 L215.78 345.46 L214.58 345.46 L213.37 345.48 L212.17 345.54 L210.97 345.43 L209.76 345.42 L208.56 345.53 L207.36 345.51 L206.16 345.48 L204.95 345.42 L203.75 345.41 L202.55 345.51 L201.34 345.56 L200.14 345.44 L198.94 345.46 L197.74 345.44 L196.53 345.54 L195.33 345.47 L194.13 345.41 L192.92 345.45 L191.72 345.54 L190.52 345.53 L189.32 345.47 L188.11 345.46 L186.91 345.45 L185.71 345.5 L184.5 345.48 L183.3 345.56 L182.1 345.56 L180.9 345.47 L179.69 345.64 L178.49 345.61 L177.29 345.51 L176.08 345.55 L174.88 345.64 L173.68 345.55 L172.48 345.66 L171.27 345.6 L170.07 345.68 L168.87 345.53 L167.66 345.52 L166.46 345.55 L165.26 345.5 L164.06 345.68 L162.85 345.67 L161.65 345.66 L160.45 345.59 L159.24 345.52 L158.04 345.7 L156.84 345.64 L155.64 345.68 L154.43 345.57 L153.23 345.64 L152.03 345.75 L150.83 345.64 L149.62 345.65 L148.42 345.71 L147.22 345.79 L146.01 345.66 L144.81 345.7 L143.61 345.72 L142.41 345.73 L141.2 345.86 L140 345.8 L138.8 345.85 L137.59 345.81 L136.39 345.94 L135.19 345.8 L133.99 345.92 L132.78 345.96 L131.58 345.95 L130.38 345.93 L129.17 345.92 L127.97 345.88 L126.77 345.84 L125.57 345.88 L124.36 345.92 L123.16 345.87 L121.96 345.78 L120.75 345.77 L119.55 345.8 L118.35 345.93 L117.15 345.91 L115.94 345.92 L114.74 345.78 L113.54 345.82 L112.33 345.71 L111.13 345.71 L109.93 345.75 L108.73 345.85 L107.52 345.72 L106.32 345.67 L105.12 345.79 L103.91 345.67 L102.71 345.63 L101.51 345.61 L100.31 345.64 L99.1 345.66 L97.9 345.6Z" fill="#231f20" stroke="#231f20" stroke-width="0.5"/>
<line x1="120.5" y1="338.5" x2="120.5" y2="337.65" stroke="#231f20" stroke-width="0.95"/>
<line x1="121.43" y1="338.5" x2="121.43" y2="336.76" stroke="#231f20" stroke-width="0.95"/>
<line x1="122.07" y1="338.5" x2="122.07" y2="336.25" stroke="#231f20" stroke-width="0.95"/>
<line x1="123.12" y1="338.5" x2="123.12" y2="336.82" stroke="#231f20" stroke-width="0.95"/>
<line x1="123.73" y1="338.5" x2="123.73" y2="336.8" stroke="#231f20" stroke-width="0.95"/>
<line x1="124.28" y1="338.5" x2="124.28" y2="337.45" stroke="#231f20" stroke-width="0.95"/>
<line x1="125.07" y1="338.5" x2="125.07" y2="337.52" stroke="#231f20" stroke-width="0.95"/>
<line x1="125.87" y1="338.5" x2="125.87" y2="336.73" stroke="#231f20" stroke-width="0.95"/>
<line x1="126.38" y1="338.5" x2="126.38" y2="336.49" stroke="#231f20" stroke-width="0.95"/>
<line x1="126.92" y1="338.5" x2="126.92" y2="336.3" stroke="#231f20" stroke-width="0.95"/>
<line x1="103" y1="345.5" x2="103" y2="347.34" stroke="#231f20" stroke-width="0.95"/>
<line x1="103.52" y1="345.5" x2="103.52" y2="347.33" stroke="#231f20" stroke-width="0.95"/>
<line x1="104.27" y1="345.5" x2="104.27" y2="348.2" stroke="#231f20" stroke-width="0.95"/>
<line x1="104.85" y1="345.5" x2="104.85" y2="348.02" stroke="#231f20" stroke-width="0.95"/>
<line x1="106.05" y1="345.5" x2="106.05" y2="347.77" stroke="#231f20" stroke-width="0.95"/>
<line x1="107.11" y1="345.5" x2="107.11" y2="346.72" stroke="#231f20" stroke-width="0.95"/>
<line x1="108.3" y1="345.5" x2="108.3" y2="347.3" stroke="#231f20" stroke-width="0.95"/>
<line x1="109.47" y1="345.5" x2="109.47" y2="348.14" stroke="#231f20" stroke-width="0.95"/>
<line x1="110.07" y1="345.5" x2="110.07" y2="347.89" stroke="#231f20" stroke-width="0.95"/>
<line x1="257" y1="345.5" x2="257" y2="346.54" stroke="#231f20" stroke-width="0.95"/>
<line x1="257.73" y1="345.5" x2="257.73" y2="347.99" stroke="#231f20" stroke-width="0.95"/>
<line x1="258.33" y1="345.5" x2="258.33" y2="348.28" stroke="#231f20" stroke-width="0.95"/>
<line x1="259" y1="345.5" x2="259" y2="348.11" stroke="#231f20" stroke-width="0.95"/>
<line x1="259.59" y1="345.5" x2="259.59" y2="347.45" stroke="#231f20" stroke-width="0.95"/>
<line x1="260.73" y1="345.5" x2="260.73" y2="346.84" stroke="#231f20" stroke-width="0.95"/>
<line x1="261.4" y1="345.5" x2="261.4" y2="347.46" stroke="#231f20" stroke-width="0.95"/>
<line x1="262.11" y1="345.5" x2="262.11" y2="346.48" stroke="#231f20" stroke-width="0.95"/>
<line x1="262.72" y1="345.5" x2="262.72" y2="346.74" stroke="#231f20" stroke-width="0.95"/>
<line x1="263.87" y1="345.5" x2="263.87" y2="347.83" stroke="#231f20" stroke-width="0.95"/>
<line x1="265" y1="345.5" x2="265" y2="346.75" stroke="#231f20" stroke-width="0.95"/>
<line x1="266.04" y1="345.5" x2="266.04" y2="346.64" stroke="#231f20" stroke-width="0.95"/>
<line x1="266.91" y1="345.5" x2="266.91" y2="347.74" stroke="#231f20" stroke-width="0.95"/>
<line x1="267.65" y1="345.5" x2="267.65" y2="348.23" stroke="#231f20" stroke-width="0.95"/>
<line x1="268.53" y1="345.5" x2="268.53" y2="347.62" stroke="#231f20" stroke-width="0.95"/>
<line x1="269.64" y1="345.5" x2="269.64" y2="346.62" stroke="#231f20" stroke-width="0.95"/>
<line x1="270.84" y1="345.5" x2="270.84" y2="347.72" stroke="#231f20" stroke-width="0.95"/>
<line x1="271.6" y1="345.5" x2="271.6" y2="348.08" stroke="#231f20" stroke-width="0.95"/>
<line x1="181.7" y1="345.5" x2="181.7" y2="348.28" stroke="#231f20" stroke-width="0.95"/>
<line x1="182.6" y1="345.5" x2="182.6" y2="347.05" stroke="#231f20" stroke-width="0.95"/>
<line x1="183.63" y1="345.5" x2="183.63" y2="347.21" stroke="#231f20" stroke-width="0.95"/>
<line x1="184.23" y1="345.5" x2="184.23" y2="347.8" stroke="#231f20" stroke-width="0.95"/>
<line x1="184.75" y1="345.5" x2="184.75" y2="347.95" stroke="#231f20" stroke-width="0.95"/>
<line x1="185.41" y1="345.5" x2="185.41" y2="347.59" stroke="#231f20" stroke-width="0.95"/>
<line x1="186.6" y1="345.5" x2="186.6" y2="347.49" stroke="#231f20" stroke-width="0.95"/>
<line x1="279.5" y1="335" x2="279.5" y2="338" stroke="#231f20" stroke-width="0.8"/>
<line x1="201.5" y1="338.5" x2="201.5" y2="337.05" stroke="#231f20" stroke-width="0.95"/>
<line x1="201.98" y1="338.5" x2="201.98" y2="337.59" stroke="#231f20" stroke-width="0.95"/>
<line x1="202.57" y1="338.5" x2="202.57" y2="336.45" stroke="#231f20" stroke-width="0.95"/>
<line x1="203.36" y1="338.5" x2="203.36" y2="336.66" stroke="#231f20" stroke-width="0.95"/>
<line x1="204.48" y1="338.5" x2="204.48" y2="337.4" stroke="#231f20" stroke-width="0.95"/>
<line x1="205.13" y1="338.5" x2="205.13" y2="336.38" stroke="#231f20" stroke-width="0.95"/>
<line x1="205.62" y1="338.5" x2="205.62" y2="337.65" stroke="#231f20" stroke-width="0.95"/>
<line x1="206.36" y1="338.5" x2="206.36" y2="337.45" stroke="#231f20" stroke-width="0.95"/>
<line x1="309.6" y1="345" x2="309.6" y2="459" stroke="#3a3a3a" stroke-width="1.1"/>
<line x1="161.6" y1="335.9" x2="161.6" y2="346.7" stroke="#ee3b2f" stroke-width="1.8"/>
<path d="M96.2 374.4 L161.6 346.7 L303.5 374.4" stroke="#ee3b2f" stroke-width="1.2" fill="none"/>
<rect x="96.2" y="374.4" width="207.3" height="126.9" stroke="#ee3b2f" stroke-width="1.2" fill="none"/>
<path d="M122.2 380.65 L122.2 480.55 L291 480.55" stroke="#333" stroke-width="0.9" fill="none"/>
<line x1="164.4" y1="480.55" x2="164.4" y2="478.05" stroke="#333" stroke-width="0.9"/>
<line x1="206.6" y1="480.55" x2="206.6" y2="478.05" stroke="#333" stroke-width="0.9"/>
<line x1="248.8" y1="480.55" x2="248.8" y2="478.05" stroke="#333" stroke-width="0.9"/>
<line x1="291" y1="480.55" x2="291" y2="478.05" stroke="#333" stroke-width="0.9"/>
<line x1="143.3" y1="480.55" x2="143.3" y2="479.05" stroke="#333" stroke-width="0.9"/>
<line x1="185.5" y1="480.55" x2="185.5" y2="479.05" stroke="#333" stroke-width="0.9"/>
<line x1="227.7" y1="480.55" x2="227.7" y2="479.05" stroke="#333" stroke-width="0.9"/>
<line x1="269.9" y1="480.55" x2="269.9" y2="479.05" stroke="#333" stroke-width="0.9"/>
<line x1="122.2" y1="463.9" x2="124.7" y2="463.9" stroke="#333" stroke-width="0.9"/>
<line x1="122.2" y1="430.6" x2="124.7" y2="430.6" stroke="#333" stroke-width="0.9"/>
<line x1="122.2" y1="397.3" x2="124.7" y2="397.3" stroke="#333" stroke-width="0.9"/>
<line x1="122.2" y1="447.25" x2="123.7" y2="447.25" stroke="#333" stroke-width="0.9"/>
<line x1="122.2" y1="413.95" x2="123.7" y2="413.95" stroke="#333" stroke-width="0.9"/>
<line x1="122.2" y1="380.65" x2="123.7" y2="380.65" stroke="#333" stroke-width="0.9"/>
<text x="122.2" y="489.05" font-size="7.4" text-anchor="middle" fill="#333">5000.0</text>
<text x="164.4" y="489.05" font-size="7.4" text-anchor="middle" fill="#333">5000.5</text>
<text x="206.6" y="489.05" font-size="7.4" text-anchor="middle" fill="#333">5001.0</text>
<text x="248.8" y="489.05" font-size="7.4" text-anchor="middle" fill="#333">5001.5</text>
<text x="291" y="489.05" font-size="7.4" text-anchor="middle" fill="#333">5002.0</text>
<text x="119.8" y="466.35" font-size="7.4" text-anchor="end" fill="#333">116</text>
<text x="119.8" y="433.05" font-size="7.4" text-anchor="end" fill="#333">118</text>
<text x="119.8" y="399.75" font-size="7.4" text-anchor="end" fill="#333">120</text>
<text x="206.5" y="499" font-size="7.6" text-anchor="middle" fill="#333">Time (Sec)</text>
<text x="106.4" y="431" font-size="7.25" text-anchor="middle" fill="#333" transform="rotate(-90 106.4 431)">Deviatoric stress (MPa)</text>
<path d="M122.2 465.56 L125.58 458.57 L128.95 392.97 L132.33 472.06 L135.7 391.72 L139.08 465.98 L142.46 458.74 L145.83 391.56 L149.21 472.81 L152.58 392.31 L155.96 465.32 L159.34 459.74 L162.71 391.81 L166.09 472.22 L169.46 392.64 L172.84 464.9 L176.22 459.07 L179.59 391.89 L182.97 472.72 L186.34 392.22 L189.72 464.73 L193.1 459.15 L196.47 392.31 L199.85 472.22 L203.22 391.97 L206.6 466.23 L209.98 458.74 L213.35 391.72 L216.73 472.64 L220.1 392.14 L223.48 464.82 L226.86 459.49 L230.23 392.31 L233.61 471.98 L236.98 393.14 L240.36 465.07 L243.74 458.91 L247.11 392.64 L250.49 471.56 L253.86 392.47 L257.24 465.15 L260.62 459.4 L263.99 392.22 L267.37 471.39 L270.74 392.55 L274.12 465.56 L277.5 458.91 L280.87 391.97 L284.25 472.89 L287.62 392.14 L291 464.98" stroke="#231f20" stroke-width="0.95" fill="none" stroke-linejoin="round"/>
<path d="M383.4 303.1 L383.4 511.2 L661.3 511.2" stroke="#333" stroke-width="1.1" fill="none"/>
<line x1="423.1" y1="511.2" x2="423.1" y2="507.2" stroke="#333" stroke-width="1.1"/>
<line x1="462.8" y1="511.2" x2="462.8" y2="507.2" stroke="#333" stroke-width="1.1"/>
<line x1="502.5" y1="511.2" x2="502.5" y2="507.2" stroke="#333" stroke-width="1.1"/>
<line x1="542.2" y1="511.2" x2="542.2" y2="507.2" stroke="#333" stroke-width="1.1"/>
<line x1="581.9" y1="511.2" x2="581.9" y2="507.2" stroke="#333" stroke-width="1.1"/>
<line x1="621.6" y1="511.2" x2="621.6" y2="507.2" stroke="#333" stroke-width="1.1"/>
<line x1="661.3" y1="511.2" x2="661.3" y2="507.2" stroke="#333" stroke-width="1.1"/>
<line x1="403.25" y1="511.2" x2="403.25" y2="508.9" stroke="#333" stroke-width="1.1"/>
<line x1="442.95" y1="511.2" x2="442.95" y2="508.9" stroke="#333" stroke-width="1.1"/>
<line x1="482.65" y1="511.2" x2="482.65" y2="508.9" stroke="#333" stroke-width="1.1"/>
<line x1="522.35" y1="511.2" x2="522.35" y2="508.9" stroke="#333" stroke-width="1.1"/>
<line x1="562.05" y1="511.2" x2="562.05" y2="508.9" stroke="#333" stroke-width="1.1"/>
<line x1="601.75" y1="511.2" x2="601.75" y2="508.9" stroke="#333" stroke-width="1.1"/>
<line x1="641.45" y1="511.2" x2="641.45" y2="508.9" stroke="#333" stroke-width="1.1"/>
<line x1="383.4" y1="469.58" x2="387.4" y2="469.58" stroke="#333" stroke-width="1.1"/>
<line x1="383.4" y1="427.96" x2="387.4" y2="427.96" stroke="#333" stroke-width="1.1"/>
<line x1="383.4" y1="386.34" x2="387.4" y2="386.34" stroke="#333" stroke-width="1.1"/>
<line x1="383.4" y1="344.72" x2="387.4" y2="344.72" stroke="#333" stroke-width="1.1"/>
<line x1="383.4" y1="303.1" x2="387.4" y2="303.1" stroke="#333" stroke-width="1.1"/>
<line x1="383.4" y1="490.39" x2="385.7" y2="490.39" stroke="#333" stroke-width="1.1"/>
<line x1="383.4" y1="448.77" x2="385.7" y2="448.77" stroke="#333" stroke-width="1.1"/>
<line x1="383.4" y1="407.15" x2="385.7" y2="407.15" stroke="#333" stroke-width="1.1"/>
<line x1="383.4" y1="365.53" x2="385.7" y2="365.53" stroke="#333" stroke-width="1.1"/>
<line x1="383.4" y1="323.91" x2="385.7" y2="323.91" stroke="#333" stroke-width="1.1"/>
<text x="383.4" y="527.5" font-size="14.5" text-anchor="middle" fill="#333">0</text>
<text x="423.1" y="527.5" font-size="14.5" text-anchor="middle" fill="#333">2000</text>
<text x="462.8" y="527.5" font-size="14.5" text-anchor="middle" fill="#333">4000</text>
<text x="502.5" y="527.5" font-size="14.5" text-anchor="middle" fill="#333">6000</text>
<text x="542.2" y="527.5" font-size="14.5" text-anchor="middle" fill="#333">8000</text>
<text x="581.9" y="527.5" font-size="14.5" text-anchor="middle" fill="#333">10000</text>
<text x="621.6" y="527.5" font-size="14.5" text-anchor="middle" fill="#333">12000</text>
<text x="661.3" y="527.5" font-size="14.5" text-anchor="middle" fill="#333">14000</text>
<text x="378.8" y="516" font-size="14.5" text-anchor="end" fill="#333">0</text>
<text x="378.8" y="474.38" font-size="14.5" text-anchor="end" fill="#333">30</text>
<text x="378.8" y="432.76" font-size="14.5" text-anchor="end" fill="#333">60</text>
<text x="378.8" y="391.14" font-size="14.5" text-anchor="end" fill="#333">90</text>
<text x="378.8" y="349.52" font-size="14.5" text-anchor="end" fill="#333">120</text>
<text x="378.8" y="307.9" font-size="14.5" text-anchor="end" fill="#333">150</text>
<text x="523.2" y="541.2" font-size="14.6" text-anchor="middle" fill="#333">Time (Sec)</text>
<text x="353.7" y="403.5" font-size="14.8" text-anchor="middle" fill="#333" transform="rotate(-90 353.7 403.5)">Deviatoric stress (MPa)</text>
<text x="522" y="572.9" font-size="17.3" text-anchor="middle" fill="#333">(d)</text>
<path d="M383.6 510.8 L383.39 509.5 L385.73 504.5 L387.9 499.51 L389.93 494.51 L391.83 489.51 L393.61 484.51 L395.27 479.52 L396.84 474.52 L398.33 469.52 L399.74 464.52 L401.08 459.53 L402.36 454.53 L403.6 449.53 L404.8 444.53 L405.96 439.54 L407.1 434.54 L408.22 429.54 L409.32 424.54 L410.42 419.55 L411.51 414.55 L412.59 409.55 L413.68 404.55 L414.78 399.56 L415.88 394.56 L416.99 389.56 L418.11 384.56 L419.24 379.57 L420.38 374.57 L421.52 369.57 L422.67 364.57 L423.83 359.58 L424.98 354.58 L426.14 349.58 L427.29 344.58 L428.42 339.59 L429.54 334.59 L430.64 329.59 L431.71 324.59 L432.75 319.6 L433.75 314.6 L433.8 311" stroke="#231f20" stroke-width="1.2" fill="none" stroke-linejoin="round"/>
<path d="M433.4 308.7 L434.6 308.65 L435.81 308.74 L437.01 308.77 L438.21 308.74 L439.41 308.87 L440.62 308.89 L441.82 308.88 L443.02 309.1 L444.23 309.01 L445.43 309.04 L446.63 309.07 L447.83 309.21 L449.04 309.27 L450.24 309.26 L451.44 309.17 L452.65 309.13 L453.85 309.05 L455.05 309.14 L456.25 309.08 L457.46 308.99 L458.66 308.99 L459.86 308.9 L461.07 308.94 L462.27 308.84 L463.47 308.69 L464.68 308.78 L465.88 308.57 L467.08 308.64 L468.28 308.59 L469.49 308.55 L470.69 308.51 L471.89 308.67 L473.1 308.54 L474.3 308.69 L475.5 308.81 L476.7 308.71 L477.91 308.78 L479.11 308.92 L480.31 308.97 L481.52 309.06 L482.72 309.16 L483.92 309.09 L485.12 309.16 L486.33 309.2 L487.53 309.18 L488.73 309.37 L489.94 309.36 L491.14 309.34 L492.34 309.18 L493.54 309.33 L494.75 309.28 L495.95 309.19 L497.15 309.21 L498.36 309.1 L499.56 309.01 L500.76 308.94 L501.96 308.92 L503.17 308.84 L504.37 308.86 L505.57 308.91 L506.78 308.87 L507.98 308.88 L509.18 308.84 L510.38 308.75 L511.59 308.81 L512.79 308.77 L513.99 308.83 L515.2 308.76 L516.4 308.68 L517.6 308.73 L518.81 308.77 L520.01 308.59 L521.21 308.7 L522.41 308.5 L523.62 308.52 L524.82 308.49 L526.02 308.58 L527.23 308.6 L528.43 308.55 L529.63 308.47 L530.83 308.58 L532.04 308.48 L533.24 308.49 L534.44 308.65 L535.65 308.64 L536.85 308.7 L538.05 308.74 L539.25 308.86 L540.46 308.82 L541.66 308.95 L542.86 308.97 L544.07 309.05 L545.27 309.01 L546.47 309.1 L547.67 309.09 L548.88 309.06 L550.08 309.04 L551.28 309.12 L552.49 309 L553.69 309.14 L554.89 308.96 L556.09 308.9 L557.3 308.87 L558.5 308.99 L559.7 308.83 L560.91 308.74 L562.11 308.67 L563.31 308.63 L564.52 308.73 L565.72 308.68 L566.92 308.67 L568.12 308.66 L569.33 308.51 L570.53 308.62 L571.73 308.58 L572.94 308.68 L574.14 308.69 L575.34 308.73 L576.54 308.59 L577.75 308.77 L578.95 308.81 L580.15 308.84 L581.36 308.7 L582.56 308.75 L583.76 308.76 L584.96 308.76 L586.17 308.94 L587.37 308.95 L588.57 308.92 L589.78 308.96 L590.98 308.92 L592.18 308.85 L593.38 308.79 L594.59 308.77 L595.79 308.87 L596.99 308.73 L598.2 308.72 L599.4 308.7 L600.6 308.59 L601.8 308.6 L603.01 308.57 L604.21 308.62 L605.41 308.52 L606.62 308.49 L607.82 308.6 L609.02 308.5 L610.22 308.57 L611.43 308.52 L612.63 308.41 L613.83 308.49 L615.04 308.49 L616.24 308.56 L617.44 308.48 L618.65 308.56 L619.85 308.53 L621.05 308.47 L622.25 308.61 L623.46 308.46 L624.66 308.61 L625.86 308.48 L627.07 308.46 L628.27 308.5 L629.47 308.62 L630.67 308.67 L631.88 308.48 L633.08 308.58 L634.28 308.59 L635.49 308.65 L636.69 308.53 L637.89 308.6 L639.09 308.57 L640.3 308.67 L641.5 308.6 L641.5 315.4 L640.3 315.36 L639.09 315.4 L637.89 315.47 L636.69 315.47 L635.49 315.44 L634.28 315.38 L633.08 315.51 L631.88 315.37 L630.67 315.44 L629.47 315.43 L628.27 315.46 L627.07 315.51 L625.86 315.5 L624.66 315.38 L623.46 315.4 L622.25 315.45 L621.05 315.53 L619.85 315.42 L618.65 315.49 L617.44 315.57 L616.24 315.54 L615.04 315.44 L613.83 315.45 L612.63 315.47 L611.43 315.54 L610.22 315.48 L609.02 315.48 L607.82 315.4 L606.62 315.47 L605.41 315.43 L604.21 315.37 L603.01 315.42 L601.8 315.52 L600.6 315.33 L599.4 315.44 L598.2 315.35 L596.99 315.39 L595.79 315.28 L594.59 315.41 L593.38 315.3 L592.18 315.31 L590.98 315.37 L589.78 315.33 L588.57 315.31 L587.37 315.36 L586.17 315.35 L584.96 315.39 L583.76 315.33 L582.56 315.46 L581.36 315.59 L580.15 315.6 L578.95 315.52 L577.75 315.65 L576.54 315.59 L575.34 315.81 L574.14 315.75 L572.94 315.75 L571.73 315.85 L570.53 315.83 L569.33 315.74 L568.12 315.88 L566.92 315.82 L565.72 315.75 L564.52 315.77 L563.31 315.72 L562.11 315.68 L560.91 315.62 L559.7 315.67 L558.5 315.66 L557.3 315.64 L556.09 315.55 L554.89 315.46 L553.69 315.55 L552.49 315.47 L551.28 315.49 L550.08 315.53 L548.88 315.53 L547.67 315.56 L546.47 315.52 L545.27 315.52 L544.07 315.52 L542.86 315.46 L541.66 315.33 L540.46 315.34 L539.25 315.38 L538.05 315.32 L536.85 315.26 L535.65 315.34 L534.44 315.28 L533.24 315.2 L532.04 315.23 L530.83 315.13 L529.63 315.19 L528.43 315.23 L527.23 315.22 L526.02 315.29 L524.82 315.34 L523.62 315.3 L522.41 315.26 L521.21 315.38 L520.01 315.39 L518.81 315.42 L517.6 315.57 L516.4 315.52 L515.2 315.61 L513.99 315.7 L512.79 315.74 L511.59 315.79 L510.38 315.68 L509.18 315.62 L507.98 315.78 L506.78 315.6 L505.57 315.7 L504.37 315.72 L503.17 315.53 L501.96 315.53 L500.76 315.46 L499.56 315.49 L498.36 315.41 L497.15 315.36 L495.95 315.31 L494.75 315.28 L493.54 315.4 L492.34 315.35 L491.14 315.26 L489.94 315.24 L488.73 315.25 L487.53 315.39 L486.33 315.32 L485.12 315.27 L483.92 315.38 L482.72 315.44 L481.52 315.4 L480.31 315.38 L479.11 315.52 L477.91 315.53 L476.7 315.59 L475.5 315.48 L474.3 315.53 L473.1 315.55 L471.89 315.62 L470.69 315.65 L469.49 315.65 L468.28 315.6 L467.08 315.57 L465.88 315.51 L464.68 315.61 L463.47 315.48 L462.27 315.47 L461.07 315.51 L459.86 315.35 L458.66 315.3 L457.46 315.23 L456.25 315.37 L455.05 315.18 L453.85 315.31 L452.65 315.2 L451.44 315.19 L450.24 315.17 L449.04 315.23 L447.83 315.27 L446.63 315.28 L445.43 315.33 L444.23 315.22 L443.02 315.38 L441.82 315.32 L440.62 315.44 L439.41 315.52 L438.21 315.47 L437.01 315.51 L435.81 315.67 L434.6 315.55 L433.4 315.6Z" fill="#231f20" stroke="#231f20" stroke-width="0.5"/>
<line x1="632.5" y1="315" x2="632.5" y2="317" stroke="#231f20" stroke-width="0.8"/>
<line x1="641.3" y1="315" x2="641.3" y2="437.4" stroke="#3a3a3a" stroke-width="1.1"/>
<line x1="482.8" y1="307" x2="482.8" y2="316.8" stroke="#ee3b2f" stroke-width="1.8"/>
<path d="M430.6 358.2 L482.8 316.8 L635.4 358.2" stroke="#ee3b2f" stroke-width="1.2" fill="none"/>
<rect x="430.6" y="358.2" width="204.8" height="134.6" stroke="#ee3b2f" stroke-width="1.2" fill="none"/>
<path d="M459.6 369.3 L459.6 466.8 L623.6 466.8" stroke="#231f20" stroke-width="0.9" fill="none"/>
<line x1="500.6" y1="466.8" x2="500.6" y2="464.3" stroke="#231f20" stroke-width="0.9"/>
<line x1="541.6" y1="466.8" x2="541.6" y2="464.3" stroke="#231f20" stroke-width="0.9"/>
<line x1="582.6" y1="466.8" x2="582.6" y2="464.3" stroke="#231f20" stroke-width="0.9"/>
<line x1="623.6" y1="466.8" x2="623.6" y2="464.3" stroke="#231f20" stroke-width="0.9"/>
<line x1="480.1" y1="466.8" x2="480.1" y2="465.3" stroke="#231f20" stroke-width="0.9"/>
<line x1="521.1" y1="466.8" x2="521.1" y2="465.3" stroke="#231f20" stroke-width="0.9"/>
<line x1="562.1" y1="466.8" x2="562.1" y2="465.3" stroke="#231f20" stroke-width="0.9"/>
<line x1="603.1" y1="466.8" x2="603.1" y2="465.3" stroke="#231f20" stroke-width="0.9"/>
<line x1="459.6" y1="466.8" x2="462.1" y2="466.8" stroke="#231f20" stroke-width="0.9"/>
<line x1="459.6" y1="447.3" x2="462.1" y2="447.3" stroke="#231f20" stroke-width="0.9"/>
<line x1="459.6" y1="427.8" x2="462.1" y2="427.8" stroke="#231f20" stroke-width="0.9"/>
<line x1="459.6" y1="408.3" x2="462.1" y2="408.3" stroke="#231f20" stroke-width="0.9"/>
<line x1="459.6" y1="388.8" x2="462.1" y2="388.8" stroke="#231f20" stroke-width="0.9"/>
<line x1="459.6" y1="369.3" x2="462.1" y2="369.3" stroke="#231f20" stroke-width="0.9"/>
<line x1="459.6" y1="457.05" x2="461.1" y2="457.05" stroke="#231f20" stroke-width="0.9"/>
<line x1="459.6" y1="437.55" x2="461.1" y2="437.55" stroke="#231f20" stroke-width="0.9"/>
<line x1="459.6" y1="418.05" x2="461.1" y2="418.05" stroke="#231f20" stroke-width="0.9"/>
<line x1="459.6" y1="398.55" x2="461.1" y2="398.55" stroke="#231f20" stroke-width="0.9"/>
<line x1="459.6" y1="379.05" x2="461.1" y2="379.05" stroke="#231f20" stroke-width="0.9"/>
<text x="459.6" y="476.4" font-size="8.6" text-anchor="middle" fill="#333">5000.0</text>
<text x="500.6" y="476.4" font-size="8.6" text-anchor="middle" fill="#333">5000.5</text>
<text x="541.6" y="476.4" font-size="8.6" text-anchor="middle" fill="#333">5001.0</text>
<text x="582.6" y="476.4" font-size="8.6" text-anchor="middle" fill="#333">5001.5</text>
<text x="623.6" y="476.4" font-size="8.6" text-anchor="middle" fill="#333">5002.0</text>
<text x="457.2" y="469.65" font-size="8.6" text-anchor="end" fill="#333">141</text>
<text x="457.2" y="450.15" font-size="8.6" text-anchor="end" fill="#333">142</text>
<text x="457.2" y="430.65" font-size="8.6" text-anchor="end" fill="#333">143</text>
<text x="457.2" y="411.15" font-size="8.6" text-anchor="end" fill="#333">144</text>
<text x="457.2" y="391.65" font-size="8.6" text-anchor="end" fill="#333">145</text>
<text x="457.2" y="372.15" font-size="8.6" text-anchor="end" fill="#333">146</text>
<text x="541.9" y="489.7" font-size="8.7" text-anchor="middle" fill="#333">Time (Sec)</text>
<text x="440.9" y="418" font-size="8.7" text-anchor="middle" fill="#333" transform="rotate(-90 440.9 418)">Deviatoric stress (MPa)</text>
<path d="M459.6 462.9 L462.88 454.71 L466.16 377.88 L469.44 470.5 L472.72 376.42 L476 465.34 L479.28 454.91 L482.56 376.22 L485.84 471.38 L489.12 377.1 L492.4 464.56 L495.68 456.08 L498.96 376.52 L502.24 470.7 L505.52 377.49 L508.8 464.07 L512.08 455.29 L515.36 376.61 L518.64 471.28 L521.92 377 L525.2 463.87 L528.48 455.39 L531.76 377.1 L535.04 470.7 L538.32 376.71 L541.6 465.63 L544.88 454.91 L548.16 376.42 L551.44 471.19 L554.72 376.91 L558 463.97 L561.28 455.78 L564.56 377.1 L567.84 470.41 L571.12 378.08 L574.4 464.27 L577.68 455.1 L580.96 377.49 L584.24 469.92 L587.52 377.29 L590.8 464.36 L594.08 455.69 L597.36 377 L600.64 469.72 L603.92 377.39 L607.2 464.85 L610.48 455.1 L613.76 376.71 L617.04 471.48 L620.32 376.91 L623.6 464.17" stroke="#231f20" stroke-width="0.95" fill="none" stroke-linejoin="round"/>
<path d="M210 592.3 L210 803.4 L500 803.4" stroke="#333" stroke-width="1.1" fill="none"/>
<line x1="251.43" y1="803.4" x2="251.43" y2="799.4" stroke="#333" stroke-width="1.1"/>
<line x1="292.86" y1="803.4" x2="292.86" y2="799.4" stroke="#333" stroke-width="1.1"/>
<line x1="334.29" y1="803.4" x2="334.29" y2="799.4" stroke="#333" stroke-width="1.1"/>
<line x1="375.71" y1="803.4" x2="375.71" y2="799.4" stroke="#333" stroke-width="1.1"/>
<line x1="417.14" y1="803.4" x2="417.14" y2="799.4" stroke="#333" stroke-width="1.1"/>
<line x1="458.57" y1="803.4" x2="458.57" y2="799.4" stroke="#333" stroke-width="1.1"/>
<line x1="500" y1="803.4" x2="500" y2="799.4" stroke="#333" stroke-width="1.1"/>
<line x1="230.71" y1="803.4" x2="230.71" y2="801.1" stroke="#333" stroke-width="1.1"/>
<line x1="272.14" y1="803.4" x2="272.14" y2="801.1" stroke="#333" stroke-width="1.1"/>
<line x1="313.57" y1="803.4" x2="313.57" y2="801.1" stroke="#333" stroke-width="1.1"/>
<line x1="355" y1="803.4" x2="355" y2="801.1" stroke="#333" stroke-width="1.1"/>
<line x1="396.43" y1="803.4" x2="396.43" y2="801.1" stroke="#333" stroke-width="1.1"/>
<line x1="437.86" y1="803.4" x2="437.86" y2="801.1" stroke="#333" stroke-width="1.1"/>
<line x1="479.29" y1="803.4" x2="479.29" y2="801.1" stroke="#333" stroke-width="1.1"/>
<line x1="210" y1="768.22" x2="214" y2="768.22" stroke="#333" stroke-width="1.1"/>
<line x1="210" y1="733.03" x2="214" y2="733.03" stroke="#333" stroke-width="1.1"/>
<line x1="210" y1="697.85" x2="214" y2="697.85" stroke="#333" stroke-width="1.1"/>
<line x1="210" y1="662.67" x2="214" y2="662.67" stroke="#333" stroke-width="1.1"/>
<line x1="210" y1="627.48" x2="214" y2="627.48" stroke="#333" stroke-width="1.1"/>
<line x1="210" y1="592.3" x2="214" y2="592.3" stroke="#333" stroke-width="1.1"/>
<line x1="210" y1="785.81" x2="212.3" y2="785.81" stroke="#333" stroke-width="1.1"/>
<line x1="210" y1="750.62" x2="212.3" y2="750.62" stroke="#333" stroke-width="1.1"/>
<line x1="210" y1="715.44" x2="212.3" y2="715.44" stroke="#333" stroke-width="1.1"/>
<line x1="210" y1="680.26" x2="212.3" y2="680.26" stroke="#333" stroke-width="1.1"/>
<line x1="210" y1="645.07" x2="212.3" y2="645.07" stroke="#333" stroke-width="1.1"/>
<line x1="210" y1="609.89" x2="212.3" y2="609.89" stroke="#333" stroke-width="1.1"/>
<text x="210" y="819.7" font-size="15" text-anchor="middle" fill="#333">0</text>
<text x="251.43" y="819.7" font-size="15" text-anchor="middle" fill="#333">2000</text>
<text x="292.86" y="819.7" font-size="15" text-anchor="middle" fill="#333">4000</text>
<text x="334.29" y="819.7" font-size="15" text-anchor="middle" fill="#333">6000</text>
<text x="375.71" y="819.7" font-size="15" text-anchor="middle" fill="#333">8000</text>
<text x="417.14" y="819.7" font-size="15" text-anchor="middle" fill="#333">10000</text>
<text x="458.57" y="819.7" font-size="15" text-anchor="middle" fill="#333">12000</text>
<text x="500" y="819.7" font-size="15" text-anchor="middle" fill="#333">14000</text>
<text x="204.8" y="808.37" font-size="15" text-anchor="end" fill="#333">0</text>
<text x="204.8" y="773.18" font-size="15" text-anchor="end" fill="#333">30</text>
<text x="204.8" y="738" font-size="15" text-anchor="end" fill="#333">60</text>
<text x="204.8" y="702.81" font-size="15" text-anchor="end" fill="#333">90</text>
<text x="204.8" y="667.63" font-size="15" text-anchor="end" fill="#333">120</text>
<text x="204.8" y="632.45" font-size="15" text-anchor="end" fill="#333">150</text>
<text x="204.8" y="597.26" font-size="15" text-anchor="end" fill="#333">180</text>
<text x="355.7" y="834" font-size="15.3" text-anchor="middle" fill="#333">Time (Sec)</text>
<text x="179.4" y="693.5" font-size="14.9" text-anchor="middle" fill="#333" transform="rotate(-90 179.4 693.5)">Deviatoric stress (MPa)</text>
<text x="343.2" y="862.8" font-size="17.3" text-anchor="middle" fill="#333">(e)</text>
<path d="M209.7 803.2 L209.42 802.2 L211.97 797.22 L214.35 792.24 L216.59 787.26 L218.68 782.28 L220.65 777.3 L222.5 772.32 L224.26 767.34 L225.92 762.36 L227.5 757.38 L229.01 752.41 L230.45 747.43 L231.85 742.45 L233.2 737.47 L234.51 732.49 L235.79 727.51 L237.04 722.53 L238.27 717.55 L239.49 712.57 L240.7 707.59 L241.89 702.61 L243.09 697.63 L244.28 692.65 L245.47 687.67 L246.66 682.69 L247.86 677.71 L249.05 672.73 L250.25 667.75 L251.44 662.77 L252.63 657.79 L253.81 652.82 L254.99 647.84 L256.15 642.86 L257.3 637.88 L258.42 632.9 L259.52 627.92 L260.58 622.94 L261.6 617.96 L262.58 612.98 L263.49 608 L263.8 604" stroke="#231f20" stroke-width="1.2" fill="none" stroke-linejoin="round"/>
<path d="M264 601.2 L265.2 601.21 L266.41 601.13 L267.61 601.28 L268.82 601.19 L270.02 601.3 L271.23 601.19 L272.43 601.22 L273.64 601.21 L274.84 601.26 L276.05 601.23 L277.25 601.2 L278.46 601.36 L279.66 601.29 L280.87 601.29 L282.07 601.32 L283.27 601.36 L284.48 601.36 L285.68 601.41 L286.89 601.42 L288.09 601.37 L289.3 601.49 L290.5 601.47 L291.71 601.31 L292.91 601.47 L294.12 601.49 L295.32 601.47 L296.53 601.35 L297.73 601.5 L298.94 601.47 L300.14 601.36 L301.34 601.37 L302.55 601.57 L303.75 601.53 L304.96 601.46 L306.16 601.44 L307.37 601.47 L308.57 601.5 L309.78 601.62 L310.98 601.54 L312.19 601.51 L313.39 601.67 L314.6 601.65 L315.8 601.53 L317.01 601.68 L318.21 601.62 L319.41 601.73 L320.62 601.88 L321.82 602.14 L323.03 602.31 L324.23 602.44 L325.44 602.34 L326.64 602.4 L327.85 602.29 L329.05 602.24 L330.26 602.06 L331.46 602.04 L332.67 601.89 L333.87 601.77 L335.08 601.75 L336.28 601.72 L337.48 601.78 L338.69 601.68 L339.89 601.74 L341.1 601.65 L342.3 601.68 L343.51 601.64 L344.71 601.61 L345.92 601.63 L347.12 601.42 L348.33 601.54 L349.53 601.42 L350.74 601.39 L351.94 601.37 L353.15 601.37 L354.35 601.25 L355.55 601.23 L356.76 601.32 L357.96 601.12 L359.17 601.23 L360.37 601.23 L361.58 601.1 L362.78 601.22 L363.99 601.23 L365.19 601.27 L366.4 601.15 L367.6 601.27 L368.81 601.17 L370.01 601.15 L371.22 601.22 L372.42 601.04 L373.62 601.17 L374.83 601.13 L376.03 601.06 L377.24 601.15 L378.44 601.04 L379.65 601.05 L380.85 601.05 L382.06 601.08 L383.26 600.95 L384.47 600.99 L385.67 600.97 L386.88 600.98 L388.08 601.03 L389.28 600.91 L390.49 601.01 L391.69 600.91 L392.9 600.92 L394.1 600.87 L395.31 600.91 L396.51 601 L397.72 600.93 L398.92 600.96 L400.13 600.87 L401.33 600.86 L402.54 600.86 L403.74 600.91 L404.95 600.92 L406.15 600.95 L407.35 600.79 L408.56 600.93 L409.76 600.95 L410.97 600.88 L412.17 600.77 L413.38 600.82 L414.58 600.75 L415.79 600.78 L416.99 600.92 L418.2 600.86 L419.4 600.86 L420.61 600.88 L421.81 600.9 L423.02 600.84 L424.22 600.83 L425.42 600.83 L426.63 600.84 L427.83 600.82 L429.04 600.84 L430.24 600.74 L431.45 600.83 L432.65 600.8 L433.86 600.86 L435.06 600.73 L436.27 600.76 L437.47 600.74 L438.68 600.89 L439.88 600.93 L441.09 600.89 L442.29 600.85 L443.49 600.95 L444.7 600.95 L445.9 600.92 L447.11 600.87 L448.31 600.89 L449.52 600.93 L450.72 600.92 L451.93 600.95 L453.13 601 L454.34 601.07 L455.54 600.9 L456.75 601.01 L457.95 600.91 L459.16 600.92 L460.36 601.06 L461.56 601.02 L462.77 601.11 L463.97 601.04 L465.18 600.98 L466.38 601.09 L467.59 601.18 L468.79 601.29 L470 601.35 L471.2 601.29 L472.41 601.32 L473.61 601.3 L474.82 601.45 L476.02 601.4 L477.23 601.41 L478.43 601.4 L479.63 601.4 L480.84 601.54 L482.04 601.44 L483.25 601.62 L484.45 601.47 L485.66 601.65 L486.86 601.54 L488.07 601.55 L489.27 601.72 L490.48 601.66 L491.68 601.79 L492.89 601.7 L494.09 601.69 L495.3 601.85 L496.5 601.8 L496.5 607.3 L495.3 607.39 L494.09 607.24 L492.89 607.38 L491.68 607.2 L490.48 607.23 L489.27 607.33 L488.07 607.19 L486.86 607.32 L485.66 607.21 L484.45 607.22 L483.25 607.2 L482.04 607.26 L480.84 607.19 L479.63 607.21 L478.43 607.22 L477.23 607.17 L476.02 607.29 L474.82 607.25 L473.61 607.19 L472.41 607.26 L471.2 607.31 L470 607.27 L468.79 607.14 L467.59 607.12 L466.38 607.3 L465.18 607.23 L463.97 607.24 L462.77 607.26 L461.56 607.11 L460.36 607.27 L459.16 607.28 L457.95 607.28 L456.75 607.17 L455.54 607.15 L454.34 607.11 L453.13 607.15 L451.93 607.31 L450.72 607.31 L449.52 607.15 L448.31 607.21 L447.11 607.2 L445.9 607.26 L444.7 607.32 L443.49 607.26 L442.29 607.25 L441.09 607.2 L439.88 607.34 L438.68 607.18 L437.47 607.24 L436.27 607.28 L435.06 607.18 L433.86 607.36 L432.65 607.37 L431.45 607.27 L430.24 607.36 L429.04 607.3 L427.83 607.2 L426.63 607.21 L425.42 607.23 L424.22 607.24 L423.02 607.21 L421.81 607.25 L420.61 607.39 L419.4 607.36 L418.2 607.35 L416.99 607.39 L415.79 607.28 L414.58 607.35 L413.38 607.25 L412.17 607.3 L410.97 607.29 L409.76 607.36 L408.56 607.38 L407.35 607.18 L406.15 607.18 L404.95 607.27 L403.74 607.23 L402.54 607.28 L401.33 607.19 L400.13 607.31 L398.92 607.27 L397.72 607.16 L396.51 607.21 L395.31 607.33 L394.1 607.14 L392.9 607.15 L391.69 607.22 L390.49 607.2 L389.28 607.23 L388.08 607.18 L386.88 607.25 L385.67 607.14 L384.47 607.14 L383.26 607.14 L382.06 607.22 L380.85 607.2 L379.65 607.2 L378.44 607.28 L377.24 607.28 L376.03 607.21 L374.83 607.14 L373.62 607.24 L372.42 607.24 L371.22 607.09 L370.01 607.16 L368.81 607.22 L367.6 607.21 L366.4 607.1 L365.19 607.08 L363.99 607.12 L362.78 607.16 L361.58 607.13 L360.37 607.05 L359.17 607.18 L357.96 607.13 L356.76 607.01 L355.55 607.13 L354.35 607.07 L353.15 606.97 L351.94 607.01 L350.74 607.12 L349.53 607.06 L348.33 607.08 L347.12 607.09 L345.92 606.97 L344.71 607.02 L343.51 607.08 L342.3 607.06 L341.1 607.07 L339.89 606.91 L338.69 607.06 L337.48 607.01 L336.28 606.9 L335.08 606.79 L333.87 606.67 L332.67 606.51 L331.46 606.47 L330.26 606.48 L329.05 606.41 L327.85 606.29 L326.64 606.26 L325.44 606.18 L324.23 606.3 L323.03 606.3 L321.82 606.42 L320.62 606.64 L319.41 606.81 L318.21 606.89 L317.01 606.82 L315.8 606.77 L314.6 606.88 L313.39 606.87 L312.19 606.94 L310.98 606.77 L309.78 606.84 L308.57 606.92 L307.37 606.98 L306.16 607.04 L304.96 607.04 L303.75 606.98 L302.55 607.02 L301.34 607.08 L300.14 607.11 L298.94 607.08 L297.73 607.19 L296.53 607.08 L295.32 607.2 L294.12 607.17 L292.91 607.2 L291.71 607.17 L290.5 607.11 L289.3 607.2 L288.09 607.27 L286.89 607.14 L285.68 607.26 L284.48 607.18 L283.27 607.15 L282.07 607.31 L280.87 607.29 L279.66 607.17 L278.46 607.18 L277.25 607.34 L276.05 607.4 L274.84 607.28 L273.64 607.43 L272.43 607.34 L271.23 607.41 L270.02 607.4 L268.82 607.3 L267.61 607.44 L266.41 607.47 L265.2 607.44 L264 607.4Z" fill="#231f20" stroke="#231f20" stroke-width="0.5"/>
<line x1="286" y1="607" x2="286" y2="609.72" stroke="#231f20" stroke-width="0.95"/>
<line x1="287.12" y1="607" x2="287.12" y2="608.19" stroke="#231f20" stroke-width="0.95"/>
<line x1="287.92" y1="607" x2="287.92" y2="608.1" stroke="#231f20" stroke-width="0.95"/>
<line x1="289.07" y1="607" x2="289.07" y2="609.67" stroke="#231f20" stroke-width="0.95"/>
<line x1="290" y1="607" x2="290" y2="608.85" stroke="#231f20" stroke-width="0.95"/>
<line x1="290.73" y1="607" x2="290.73" y2="609.63" stroke="#231f20" stroke-width="0.95"/>
<line x1="291.55" y1="607" x2="291.55" y2="609.22" stroke="#231f20" stroke-width="0.95"/>
<line x1="292.13" y1="607" x2="292.13" y2="608.37" stroke="#231f20" stroke-width="0.95"/>
<line x1="292.66" y1="607" x2="292.66" y2="609.4" stroke="#231f20" stroke-width="0.95"/>
<line x1="293.53" y1="607" x2="293.53" y2="608.2" stroke="#231f20" stroke-width="0.95"/>
<line x1="294.64" y1="607" x2="294.64" y2="608.46" stroke="#231f20" stroke-width="0.95"/>
<line x1="295.42" y1="607" x2="295.42" y2="608.23" stroke="#231f20" stroke-width="0.95"/>
<line x1="296.09" y1="607" x2="296.09" y2="609.66" stroke="#231f20" stroke-width="0.95"/>
<line x1="296.81" y1="607" x2="296.81" y2="608.25" stroke="#231f20" stroke-width="0.95"/>
<line x1="297.65" y1="607" x2="297.65" y2="608.57" stroke="#231f20" stroke-width="0.95"/>
<line x1="298.78" y1="607" x2="298.78" y2="608.14" stroke="#231f20" stroke-width="0.95"/>
<line x1="299.96" y1="607" x2="299.96" y2="608.02" stroke="#231f20" stroke-width="0.95"/>
<line x1="301.09" y1="607" x2="301.09" y2="609.3" stroke="#231f20" stroke-width="0.95"/>
<line x1="301.72" y1="607" x2="301.72" y2="608.9" stroke="#231f20" stroke-width="0.95"/>
<line x1="302.4" y1="607" x2="302.4" y2="608.44" stroke="#231f20" stroke-width="0.95"/>
<line x1="303.03" y1="607" x2="303.03" y2="608.66" stroke="#231f20" stroke-width="0.95"/>
<line x1="304.22" y1="607" x2="304.22" y2="610" stroke="#231f20" stroke-width="0.95"/>
<line x1="305.37" y1="607" x2="305.37" y2="608.1" stroke="#231f20" stroke-width="0.95"/>
<line x1="306.06" y1="607" x2="306.06" y2="609.78" stroke="#231f20" stroke-width="0.95"/>
<line x1="306.58" y1="607" x2="306.58" y2="609.43" stroke="#231f20" stroke-width="0.95"/>
<line x1="362" y1="607" x2="362" y2="609.96" stroke="#231f20" stroke-width="0.95"/>
<line x1="362.49" y1="607" x2="362.49" y2="609.59" stroke="#231f20" stroke-width="0.95"/>
<line x1="363.22" y1="607" x2="363.22" y2="608.19" stroke="#231f20" stroke-width="0.95"/>
<line x1="363.7" y1="607" x2="363.7" y2="609.65" stroke="#231f20" stroke-width="0.95"/>
<line x1="364.56" y1="607" x2="364.56" y2="608.29" stroke="#231f20" stroke-width="0.95"/>
<line x1="365.35" y1="607" x2="365.35" y2="609.82" stroke="#231f20" stroke-width="0.95"/>
<line x1="365.99" y1="607" x2="365.99" y2="609.1" stroke="#231f20" stroke-width="0.95"/>
<line x1="366.57" y1="607" x2="366.57" y2="608.28" stroke="#231f20" stroke-width="0.95"/>
<line x1="367.6" y1="607" x2="367.6" y2="609.39" stroke="#231f20" stroke-width="0.95"/>
<line x1="368.22" y1="607" x2="368.22" y2="608.07" stroke="#231f20" stroke-width="0.95"/>
<line x1="368.77" y1="607" x2="368.77" y2="609.18" stroke="#231f20" stroke-width="0.95"/>
<line x1="369.6" y1="607" x2="369.6" y2="608.48" stroke="#231f20" stroke-width="0.95"/>
<line x1="370.23" y1="607" x2="370.23" y2="609.19" stroke="#231f20" stroke-width="0.95"/>
<line x1="371.22" y1="607" x2="371.22" y2="609.6" stroke="#231f20" stroke-width="0.95"/>
<line x1="372.12" y1="607" x2="372.12" y2="608.32" stroke="#231f20" stroke-width="0.95"/>
<line x1="372.65" y1="607" x2="372.65" y2="609.44" stroke="#231f20" stroke-width="0.95"/>
<line x1="373.42" y1="607" x2="373.42" y2="609.42" stroke="#231f20" stroke-width="0.95"/>
<line x1="373.94" y1="607" x2="373.94" y2="609.6" stroke="#231f20" stroke-width="0.95"/>
<line x1="374.66" y1="607" x2="374.66" y2="609.67" stroke="#231f20" stroke-width="0.95"/>
<line x1="375.77" y1="607" x2="375.77" y2="608.94" stroke="#231f20" stroke-width="0.95"/>
<line x1="466" y1="607" x2="466" y2="609.81" stroke="#231f20" stroke-width="0.95"/>
<line x1="466.82" y1="607" x2="466.82" y2="609.73" stroke="#231f20" stroke-width="0.95"/>
<line x1="467.49" y1="607" x2="467.49" y2="608.29" stroke="#231f20" stroke-width="0.95"/>
<line x1="468.57" y1="607" x2="468.57" y2="608.67" stroke="#231f20" stroke-width="0.95"/>
<line x1="469.17" y1="607" x2="469.17" y2="608.68" stroke="#231f20" stroke-width="0.95"/>
<line x1="470.08" y1="607" x2="470.08" y2="607.91" stroke="#231f20" stroke-width="0.95"/>
<line x1="470.93" y1="607" x2="470.93" y2="608.84" stroke="#231f20" stroke-width="0.95"/>
<line x1="471.79" y1="607" x2="471.79" y2="608.15" stroke="#231f20" stroke-width="0.95"/>
<line x1="472.78" y1="607" x2="472.78" y2="609.61" stroke="#231f20" stroke-width="0.95"/>
<line x1="473.88" y1="607" x2="473.88" y2="608.57" stroke="#231f20" stroke-width="0.95"/>
<line x1="474.87" y1="607" x2="474.87" y2="608.7" stroke="#231f20" stroke-width="0.95"/>
<line x1="475.9" y1="607" x2="475.9" y2="608.03" stroke="#231f20" stroke-width="0.95"/>
<line x1="326.5" y1="597.9" x2="326.5" y2="601.5" stroke="#231f20" stroke-width="0.8"/>
<line x1="398.5" y1="597.9" x2="398.5" y2="601.5" stroke="#231f20" stroke-width="0.8"/>
<line x1="473.5" y1="597.9" x2="473.5" y2="601.5" stroke="#231f20" stroke-width="0.8"/>
<line x1="496.2" y1="606" x2="496.2" y2="775.8" stroke="#3a3a3a" stroke-width="1.1"/>
<line x1="313.5" y1="599.8" x2="313.5" y2="608.2" stroke="#ee3b2f" stroke-width="1.8"/>
<path d="M257.6 647.8 L313.5 608.2 L482.9 647.8" stroke="#ee3b2f" stroke-width="1.2" fill="none"/>
<rect x="257.6" y="647.8" width="225.3" height="143.4" stroke="#ee3b2f" stroke-width="1.2" fill="none"/>
<path d="M291.2 656.9 L291.2 763.6 L468.1 763.6" stroke="#231f20" stroke-width="0.9" fill="none"/>
<line x1="335.43" y1="763.6" x2="335.43" y2="761.1" stroke="#231f20" stroke-width="0.9"/>
<line x1="379.65" y1="763.6" x2="379.65" y2="761.1" stroke="#231f20" stroke-width="0.9"/>
<line x1="423.88" y1="763.6" x2="423.88" y2="761.1" stroke="#231f20" stroke-width="0.9"/>
<line x1="468.1" y1="763.6" x2="468.1" y2="761.1" stroke="#231f20" stroke-width="0.9"/>
<line x1="313.31" y1="763.6" x2="313.31" y2="762.1" stroke="#231f20" stroke-width="0.9"/>
<line x1="357.54" y1="763.6" x2="357.54" y2="762.1" stroke="#231f20" stroke-width="0.9"/>
<line x1="401.76" y1="763.6" x2="401.76" y2="762.1" stroke="#231f20" stroke-width="0.9"/>
<line x1="445.99" y1="763.6" x2="445.99" y2="762.1" stroke="#231f20" stroke-width="0.9"/>
<line x1="291.2" y1="763.6" x2="293.7" y2="763.6" stroke="#231f20" stroke-width="0.9"/>
<line x1="291.2" y1="742.26" x2="293.7" y2="742.26" stroke="#231f20" stroke-width="0.9"/>
<line x1="291.2" y1="720.92" x2="293.7" y2="720.92" stroke="#231f20" stroke-width="0.9"/>
<line x1="291.2" y1="699.58" x2="293.7" y2="699.58" stroke="#231f20" stroke-width="0.9"/>
<line x1="291.2" y1="678.24" x2="293.7" y2="678.24" stroke="#231f20" stroke-width="0.9"/>
<line x1="291.2" y1="656.9" x2="293.7" y2="656.9" stroke="#231f20" stroke-width="0.9"/>
<line x1="291.2" y1="752.93" x2="292.7" y2="752.93" stroke="#231f20" stroke-width="0.9"/>
<line x1="291.2" y1="731.59" x2="292.7" y2="731.59" stroke="#231f20" stroke-width="0.9"/>
<line x1="291.2" y1="710.25" x2="292.7" y2="710.25" stroke="#231f20" stroke-width="0.9"/>
<line x1="291.2" y1="688.91" x2="292.7" y2="688.91" stroke="#231f20" stroke-width="0.9"/>
<line x1="291.2" y1="667.57" x2="292.7" y2="667.57" stroke="#231f20" stroke-width="0.9"/>
<text x="291.2" y="773.6" font-size="9.4" text-anchor="middle" fill="#333">5000.0</text>
<text x="335.43" y="773.6" font-size="9.4" text-anchor="middle" fill="#333">5000.5</text>
<text x="379.65" y="773.6" font-size="9.4" text-anchor="middle" fill="#333">5001.0</text>
<text x="423.88" y="773.6" font-size="9.4" text-anchor="middle" fill="#333">5001.5</text>
<text x="468.1" y="773.6" font-size="9.4" text-anchor="middle" fill="#333">5002.0</text>
<text x="289" y="766.7" font-size="9.7" text-anchor="end" fill="#333">167</text>
<text x="289" y="745.36" font-size="9.7" text-anchor="end" fill="#333">168</text>
<text x="289" y="724.02" font-size="9.7" text-anchor="end" fill="#333">169</text>
<text x="289" y="702.68" font-size="9.7" text-anchor="end" fill="#333">170</text>
<text x="289" y="681.34" font-size="9.7" text-anchor="end" fill="#333">171</text>
<text x="289" y="660" font-size="9.7" text-anchor="end" fill="#333">172</text>
<text x="379.7" y="787.5" font-size="9.3" text-anchor="middle" fill="#333">Time (Sec)</text>
<text x="271.1" y="710.3" font-size="9.2" text-anchor="middle" fill="#333" transform="rotate(-90 271.1 710.3)">Deviatoric stress (MPa)</text>
<path d="M291.2 757.2 L294.74 748.24 L298.28 663.09 L301.81 765.52 L305.35 662.56 L308.89 758.8 L312.43 748.45 L315.97 661.27 L319.5 766.48 L323.04 663.3 L326.58 757.94 L330.12 749.73 L333.66 661.59 L337.19 765.73 L340.73 663.73 L344.27 757.41 L347.81 748.88 L351.35 661.7 L354.88 766.37 L358.42 663.2 L361.96 757.2 L365.5 748.98 L369.04 662.24 L372.57 765.73 L376.11 662.88 L379.65 759.12 L383.19 748.45 L386.73 661.49 L390.26 766.27 L393.8 663.09 L397.34 757.3 L400.88 749.41 L404.42 662.24 L407.95 765.41 L411.49 664.37 L415.03 757.62 L418.57 748.66 L422.11 662.66 L425.64 764.88 L429.18 663.52 L432.72 757.73 L436.26 749.3 L439.8 662.13 L443.33 764.67 L446.87 663.62 L450.41 758.26 L453.95 748.66 L457.49 661.81 L461.02 766.59 L464.56 663.09 L468.1 757.52" stroke="#231f20" stroke-width="0.95" fill="none" stroke-linejoin="round"/>
</svg></body></html>
